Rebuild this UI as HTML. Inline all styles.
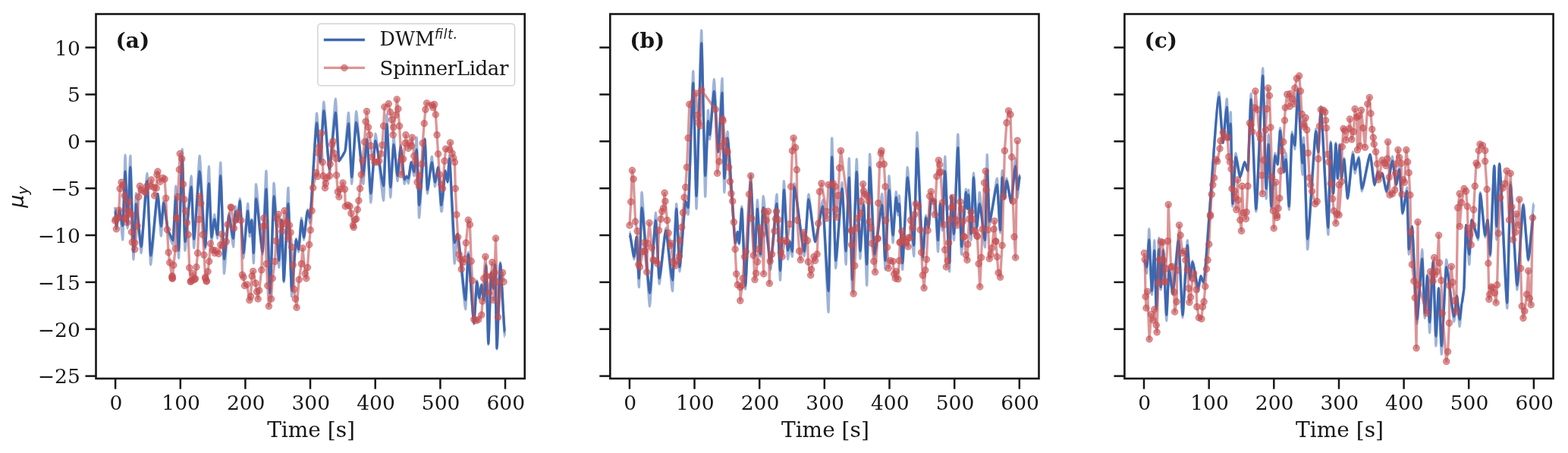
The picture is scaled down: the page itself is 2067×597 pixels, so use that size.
<!DOCTYPE html><html><head><meta charset="utf-8"><style>html,body{margin:0;padding:0;background:#fff;overflow:hidden}svg{display:block}text{font-family:"DejaVu Serif","Liberation Serif",serif;fill:#161616}</style></head><body>
<svg width="2067" height="597" viewBox="0 0 2067 597">
<rect width="2067" height="597" fill="#fff"/>
<clipPath id="c0"><rect x="126.5" y="18.5" width="565.2" height="480.4"/></clipPath>
<clipPath id="c1"><rect x="804.3" y="18.5" width="565.2" height="480.4"/></clipPath>
<clipPath id="c2"><rect x="1482.4" y="18.5" width="565.2" height="480.4"/></clipPath>
<line x1="152.1" y1="498.9" x2="152.1" y2="512.7" stroke="#161616" stroke-width="2.5"/>
<text x="152.9" y="540" font-size="26.5" text-anchor="middle">0</text>
<line x1="237.8" y1="498.9" x2="237.8" y2="512.7" stroke="#161616" stroke-width="2.5"/>
<text x="238.6" y="540" font-size="26.5" text-anchor="middle">100</text>
<line x1="323.4" y1="498.9" x2="323.4" y2="512.7" stroke="#161616" stroke-width="2.5"/>
<text x="324.2" y="540" font-size="26.5" text-anchor="middle">200</text>
<line x1="409.0" y1="498.9" x2="409.0" y2="512.7" stroke="#161616" stroke-width="2.5"/>
<text x="409.8" y="540" font-size="26.5" text-anchor="middle">300</text>
<line x1="494.7" y1="498.9" x2="494.7" y2="512.7" stroke="#161616" stroke-width="2.5"/>
<text x="495.5" y="540" font-size="26.5" text-anchor="middle">400</text>
<line x1="580.4" y1="498.9" x2="580.4" y2="512.7" stroke="#161616" stroke-width="2.5"/>
<text x="581.1" y="540" font-size="26.5" text-anchor="middle">500</text>
<line x1="666.0" y1="498.9" x2="666.0" y2="512.7" stroke="#161616" stroke-width="2.5"/>
<text x="666.8" y="540" font-size="26.5" text-anchor="middle">600</text>
<line x1="112.5" y1="495.6" x2="126.5" y2="495.6" stroke="#161616" stroke-width="2.5"/>
<text x="105.8" y="505.4" font-size="26.5" text-anchor="end">−25</text>
<line x1="112.5" y1="433.7" x2="126.5" y2="433.7" stroke="#161616" stroke-width="2.5"/>
<text x="105.8" y="443.6" font-size="26.5" text-anchor="end">−20</text>
<line x1="112.5" y1="371.9" x2="126.5" y2="371.9" stroke="#161616" stroke-width="2.5"/>
<text x="105.8" y="381.8" font-size="26.5" text-anchor="end">−15</text>
<line x1="112.5" y1="310.0" x2="126.5" y2="310.0" stroke="#161616" stroke-width="2.5"/>
<text x="105.8" y="319.9" font-size="26.5" text-anchor="end">−10</text>
<line x1="112.5" y1="248.2" x2="126.5" y2="248.2" stroke="#161616" stroke-width="2.5"/>
<text x="105.8" y="258.1" font-size="26.5" text-anchor="end">−5</text>
<line x1="112.5" y1="186.3" x2="126.5" y2="186.3" stroke="#161616" stroke-width="2.5"/>
<text x="105.8" y="196.2" font-size="26.5" text-anchor="end">0</text>
<line x1="112.5" y1="124.5" x2="126.5" y2="124.5" stroke="#161616" stroke-width="2.5"/>
<text x="105.8" y="134.4" font-size="26.5" text-anchor="end">5</text>
<line x1="112.5" y1="62.6" x2="126.5" y2="62.6" stroke="#161616" stroke-width="2.5"/>
<text x="105.8" y="72.5" font-size="26.5" text-anchor="end">10</text>
<text x="410.1" y="576.2" font-size="28.0" text-anchor="middle">Time [s]</text>
<line x1="829.9" y1="498.9" x2="829.9" y2="512.7" stroke="#161616" stroke-width="2.5"/>
<text x="830.7" y="540" font-size="26.5" text-anchor="middle">0</text>
<line x1="915.5" y1="498.9" x2="915.5" y2="512.7" stroke="#161616" stroke-width="2.5"/>
<text x="916.3" y="540" font-size="26.5" text-anchor="middle">100</text>
<line x1="1001.2" y1="498.9" x2="1001.2" y2="512.7" stroke="#161616" stroke-width="2.5"/>
<text x="1002.0" y="540" font-size="26.5" text-anchor="middle">200</text>
<line x1="1086.8" y1="498.9" x2="1086.8" y2="512.7" stroke="#161616" stroke-width="2.5"/>
<text x="1087.6" y="540" font-size="26.5" text-anchor="middle">300</text>
<line x1="1172.5" y1="498.9" x2="1172.5" y2="512.7" stroke="#161616" stroke-width="2.5"/>
<text x="1173.3" y="540" font-size="26.5" text-anchor="middle">400</text>
<line x1="1258.2" y1="498.9" x2="1258.2" y2="512.7" stroke="#161616" stroke-width="2.5"/>
<text x="1259.0" y="540" font-size="26.5" text-anchor="middle">500</text>
<line x1="1343.8" y1="498.9" x2="1343.8" y2="512.7" stroke="#161616" stroke-width="2.5"/>
<text x="1344.6" y="540" font-size="26.5" text-anchor="middle">600</text>
<line x1="790.3" y1="495.6" x2="804.3" y2="495.6" stroke="#161616" stroke-width="2.5"/>
<line x1="790.3" y1="433.7" x2="804.3" y2="433.7" stroke="#161616" stroke-width="2.5"/>
<line x1="790.3" y1="371.9" x2="804.3" y2="371.9" stroke="#161616" stroke-width="2.5"/>
<line x1="790.3" y1="310.0" x2="804.3" y2="310.0" stroke="#161616" stroke-width="2.5"/>
<line x1="790.3" y1="248.2" x2="804.3" y2="248.2" stroke="#161616" stroke-width="2.5"/>
<line x1="790.3" y1="186.3" x2="804.3" y2="186.3" stroke="#161616" stroke-width="2.5"/>
<line x1="790.3" y1="124.5" x2="804.3" y2="124.5" stroke="#161616" stroke-width="2.5"/>
<line x1="790.3" y1="62.6" x2="804.3" y2="62.6" stroke="#161616" stroke-width="2.5"/>
<text x="1087.9" y="576.2" font-size="28.0" text-anchor="middle">Time [s]</text>
<line x1="1508.0" y1="498.9" x2="1508.0" y2="512.7" stroke="#161616" stroke-width="2.5"/>
<text x="1508.8" y="540" font-size="26.5" text-anchor="middle">0</text>
<line x1="1593.7" y1="498.9" x2="1593.7" y2="512.7" stroke="#161616" stroke-width="2.5"/>
<text x="1594.5" y="540" font-size="26.5" text-anchor="middle">100</text>
<line x1="1679.3" y1="498.9" x2="1679.3" y2="512.7" stroke="#161616" stroke-width="2.5"/>
<text x="1680.1" y="540" font-size="26.5" text-anchor="middle">200</text>
<line x1="1765.0" y1="498.9" x2="1765.0" y2="512.7" stroke="#161616" stroke-width="2.5"/>
<text x="1765.8" y="540" font-size="26.5" text-anchor="middle">300</text>
<line x1="1850.6" y1="498.9" x2="1850.6" y2="512.7" stroke="#161616" stroke-width="2.5"/>
<text x="1851.4" y="540" font-size="26.5" text-anchor="middle">400</text>
<line x1="1936.2" y1="498.9" x2="1936.2" y2="512.7" stroke="#161616" stroke-width="2.5"/>
<text x="1937.0" y="540" font-size="26.5" text-anchor="middle">500</text>
<line x1="2021.9" y1="498.9" x2="2021.9" y2="512.7" stroke="#161616" stroke-width="2.5"/>
<text x="2022.7" y="540" font-size="26.5" text-anchor="middle">600</text>
<line x1="1468.4" y1="495.6" x2="1482.4" y2="495.6" stroke="#161616" stroke-width="2.5"/>
<line x1="1468.4" y1="433.7" x2="1482.4" y2="433.7" stroke="#161616" stroke-width="2.5"/>
<line x1="1468.4" y1="371.9" x2="1482.4" y2="371.9" stroke="#161616" stroke-width="2.5"/>
<line x1="1468.4" y1="310.0" x2="1482.4" y2="310.0" stroke="#161616" stroke-width="2.5"/>
<line x1="1468.4" y1="248.2" x2="1482.4" y2="248.2" stroke="#161616" stroke-width="2.5"/>
<line x1="1468.4" y1="186.3" x2="1482.4" y2="186.3" stroke="#161616" stroke-width="2.5"/>
<line x1="1468.4" y1="124.5" x2="1482.4" y2="124.5" stroke="#161616" stroke-width="2.5"/>
<line x1="1468.4" y1="62.6" x2="1482.4" y2="62.6" stroke="#161616" stroke-width="2.5"/>
<text x="1766.0" y="576.2" font-size="28.0" text-anchor="middle">Time [s]</text>
<g clip-path="url(#c0)"><path d="M151.7,272.9C151.7,272.9 152.1,278.0 152.1,278.0C152.2,278.0 153.3,301.8 153.4,301.8C153.8,301.8 157.2,275.4 157.6,275.4C158.0,275.4 161.4,316.0 161.8,316.0C162.1,316.0 164.8,204.2 165.1,204.2C165.4,204.2 167.8,300.9 168.1,300.9C168.5,300.9 171.4,205.1 171.8,205.1C172.2,205.1 175.6,342.0 176.0,342.0C176.3,342.0 179.1,254.5 179.4,254.5C180.1,254.5 185.4,333.6 186.1,333.6C186.9,333.6 193.1,228.5 193.9,228.5C194.4,228.5 198.1,348.7 198.6,348.7C199.5,348.7 207.0,255.3 207.9,255.3C208.3,255.3 212.0,311.0 212.4,311.0C212.7,311.0 215.4,264.6 215.7,264.6C216.3,264.6 221.5,308.5 222.1,308.5C222.7,308.5 227.4,322.7 228.0,322.7C228.4,322.7 231.4,245.3 231.8,245.3C232.2,245.3 235.1,340.3 235.5,340.3C236.0,340.3 239.7,196.7 240.2,196.7C240.6,196.7 243.5,330.2 243.9,330.2C244.7,330.2 251.4,231.9 252.2,231.9C252.5,231.9 255.3,326.9 255.6,326.9C256.4,326.9 262.4,205.1 263.1,205.1C263.9,205.1 269.9,327.8 270.6,327.8C271.1,327.8 274.9,219.2 275.4,219.2C275.8,219.2 278.5,319.2 278.9,319.2C279.3,319.2 282.3,282.5 282.7,282.5C283.1,282.5 286.2,314.4 286.6,314.4C287.0,314.4 290.3,214.1 290.7,214.1C291.2,214.1 295.0,360.6 295.5,360.6C296.1,360.6 301.2,281.0 301.8,281.0C302.4,281.0 307.0,325.5 307.6,325.5C307.9,325.5 310.1,272.0 310.4,272.0C310.7,272.0 313.0,291.8 313.3,291.8C313.6,291.8 315.9,261.8 316.2,261.8C316.7,261.8 320.5,340.2 321.0,340.2C321.6,340.2 326.1,268.2 326.7,268.2C326.9,268.2 328.9,311.8 329.2,311.8C329.5,311.8 331.5,288.9 331.8,288.9C332.1,288.9 334.1,346.9 334.3,346.9C334.6,346.9 337.2,242.7 337.5,242.7C338.4,242.7 345.2,335.4 346.1,335.4C346.6,335.4 350.4,225.2 350.9,225.2C351.4,225.2 355.5,392.4 356.0,392.4C356.5,392.4 360.6,241.1 361.1,241.1C361.8,241.1 367.1,352.6 367.8,352.6C368.2,352.6 370.9,288.9 371.3,288.9C371.6,288.9 373.8,371.7 374.1,371.7C374.7,371.7 379.3,247.5 379.9,247.5C380.4,247.5 384.1,390.8 384.6,390.8C385.2,390.8 389.8,314.4 390.4,314.4C390.7,314.4 393.3,331.9 393.6,331.9C394.0,331.9 397.0,287.3 397.4,287.3C397.7,287.3 400.3,316.0 400.6,316.0C401.1,316.0 404.9,276.2 405.4,276.2C405.7,276.2 408.2,293.7 408.5,293.7C409.4,293.7 416.7,149.3 417.6,149.3C418.1,149.3 421.7,213.8 422.1,213.8C422.6,213.8 426.3,134.2 426.8,134.2C427.6,134.2 433.6,227.2 434.4,227.2C435.2,227.2 441.6,130.1 442.4,130.1C442.8,130.1 446.4,212.2 446.9,212.2C447.3,212.2 450.4,207.4 450.8,207.4C451.2,207.4 454.4,199.8 454.8,199.8C455.3,199.8 459.0,148.5 459.5,148.5C459.9,148.5 463.3,242.6 463.7,242.6C464.3,242.6 469.0,146.8 469.6,146.8C470.5,146.8 477.9,242.6 478.8,242.6C479.3,242.6 483.3,182.0 483.8,182.0C484.3,182.0 488.3,266.9 488.8,266.9C489.4,266.9 494.4,176.1 495.0,176.1C496.1,176.1 504.5,264.4 505.6,264.4C506.0,264.4 509.4,151.0 509.8,151.0C510.3,151.0 514.3,260.2 514.8,260.2C515.2,260.2 518.6,180.3 519.0,180.3C519.5,180.3 523.5,238.5 524.0,238.5C524.4,238.5 527.8,191.2 528.2,191.2C528.7,191.2 532.7,242.6 533.2,242.6C533.5,242.6 535.5,231.8 535.8,231.8C536.0,231.8 538.0,241.8 538.3,241.8C538.7,241.8 541.7,213.8 542.1,213.8C542.5,213.8 545.4,231.8 545.8,231.8C546.1,231.8 548.9,181.2 549.2,181.2C549.5,181.2 552.2,287.1 552.5,287.1C553.2,287.1 559.2,182.8 560.0,182.8C560.3,182.8 563.1,255.2 563.4,255.2C564.0,255.2 568.7,206.3 569.3,206.3C569.7,206.3 573.1,246.0 573.5,246.0C573.9,246.0 577.2,220.5 577.6,220.5C578.0,220.5 581.3,278.5 581.7,278.5C581.8,278.5 582.2,278.7 582.3,278.7C582.8,278.7 586.5,224.9 587.0,224.9C587.3,224.9 589.7,240.0 590.0,240.0C590.2,240.0 592.2,205.0 592.4,205.0C593.1,205.0 598.5,347.3 599.2,347.3C599.6,347.3 602.7,308.1 603.1,308.1C604.2,308.1 612.6,407.6 613.7,407.6C614.1,407.6 616.9,332.2 617.3,332.2C618.0,332.2 624.0,427.2 624.8,427.2C625.2,427.2 628.3,369.9 628.7,369.9C629.0,369.9 631.5,394.0 631.8,394.0C632.1,394.0 634.5,374.4 634.8,374.4C635.1,374.4 637.5,395.5 637.8,395.5C638.1,395.5 640.5,348.8 640.8,348.8C641.1,348.8 643.5,454.3 643.8,454.3C644.2,454.3 647.0,359.3 647.4,359.3C647.7,359.3 650.1,380.4 650.4,380.4C650.6,380.4 652.4,348.8 652.6,348.8C652.8,348.8 654.8,460.3 655.0,460.3C655.5,460.3 659.0,345.8 659.5,345.8C660.1,345.8 664.9,443.8 665.5,443.8" fill="none" stroke="#3d67af" stroke-opacity="0.5" stroke-width="3.4" stroke-linejoin="round"/><path d="M151.7,277.1C151.8,277.1 152.0,278.0 152.1,278.0C152.3,278.0 153.2,297.6 153.4,297.6C154.2,297.6 156.8,277.1 157.6,277.1C158.4,277.1 161.0,297.6 161.8,297.6C162.4,297.6 164.5,226.0 165.1,226.0C165.6,226.0 167.6,295.1 168.1,295.1C168.8,295.1 171.1,220.2 171.8,220.2C172.6,220.2 175.2,331.9 176.0,331.9C176.6,331.9 178.8,268.7 179.4,268.7C180.6,268.7 184.9,325.2 186.1,325.2C187.5,325.2 192.5,238.6 193.9,238.6C194.7,238.6 197.8,336.9 198.6,336.9C200.3,336.9 206.2,255.3 207.9,255.3C208.7,255.3 211.6,298.4 212.4,298.4C213.0,298.4 215.1,267.1 215.7,267.1C216.9,267.1 220.9,305.1 222.1,305.1C223.2,305.1 226.9,316.8 228.0,316.8C228.7,316.8 231.1,260.4 231.8,260.4C232.5,260.4 234.8,330.2 235.5,330.2C236.3,330.2 239.4,208.4 240.2,208.4C240.9,208.4 243.2,318.5 243.9,318.5C245.4,318.5 250.7,246.1 252.2,246.1C252.8,246.1 255.0,315.2 255.6,315.2C256.9,315.2 261.8,226.0 263.1,226.0C264.5,226.0 269.2,325.2 270.6,325.2C271.5,325.2 274.5,241.8 275.4,241.8C276.0,241.8 278.3,312.8 278.9,312.8C279.6,312.8 282.0,288.9 282.7,288.9C283.4,288.9 285.9,309.6 286.6,309.6C287.3,309.6 290.0,231.6 290.7,231.6C291.6,231.6 294.6,341.5 295.5,341.5C296.6,341.5 300.7,284.1 301.8,284.1C302.8,284.1 306.6,314.4 307.6,314.4C308.1,314.4 309.9,278.7 310.4,278.7C310.9,278.7 312.8,291.8 313.3,291.8C313.8,291.8 315.7,265.0 316.2,265.0C317.1,265.0 320.1,333.5 321.0,333.5C322.0,333.5 325.7,277.8 326.7,277.8C327.1,277.8 328.8,306.4 329.2,306.4C329.7,306.4 331.3,290.5 331.8,290.5C332.2,290.5 333.9,333.5 334.3,333.5C334.9,333.5 336.9,261.8 337.5,261.8C339.0,261.8 344.6,331.9 346.1,331.9C347.0,331.9 350.0,249.1 350.9,249.1C351.8,249.1 355.1,386.1 356.0,386.1C356.9,386.1 360.2,258.7 361.1,258.7C362.3,258.7 366.6,343.1 367.8,343.1C368.4,343.1 370.7,290.5 371.3,290.5C371.8,290.5 373.6,370.1 374.1,370.1C375.1,370.1 378.9,268.2 379.9,268.2C380.7,268.2 383.8,382.9 384.6,382.9C385.6,382.9 389.4,316.0 390.4,316.0C391.0,316.0 393.0,328.7 393.6,328.7C394.3,328.7 396.7,290.5 397.4,290.5C398.0,290.5 400.0,312.8 400.6,312.8C401.5,312.8 404.5,277.8 405.4,277.8C406.0,277.8 407.9,287.3 408.5,287.3C410.1,287.3 416.0,161.9 417.6,161.9C418.4,161.9 421.3,213.8 422.1,213.8C422.9,213.8 426.0,146.0 426.8,146.0C428.2,146.0 433.0,222.2 434.4,222.2C435.8,222.2 441.0,148.5 442.4,148.5C443.2,148.5 446.1,212.2 446.9,212.2C447.6,212.2 450.1,206.4 450.8,206.4C451.5,206.4 454.1,199.8 454.8,199.8C455.6,199.8 458.7,162.7 459.5,162.7C460.3,162.7 462.9,233.4 463.7,233.4C464.8,233.4 468.5,161.1 469.6,161.1C471.3,161.1 477.1,230.1 478.8,230.1C479.7,230.1 482.9,183.7 483.8,183.7C484.7,183.7 487.9,255.2 488.8,255.2C489.9,255.2 493.9,185.3 495.0,185.3C496.9,185.3 503.7,245.2 505.6,245.2C506.4,245.2 509.0,163.6 509.8,163.6C510.7,163.6 513.9,246.8 514.8,246.8C515.6,246.8 518.2,190.4 519.0,190.4C519.9,190.4 523.1,231.8 524.0,231.8C524.8,231.8 527.4,193.7 528.2,193.7C529.1,193.7 532.3,236.8 533.2,236.8C533.7,236.8 535.3,232.6 535.8,232.6C536.2,232.6 537.8,235.1 538.3,235.1C539.0,235.1 541.4,213.8 542.1,213.8C542.8,213.8 545.1,226.7 545.8,226.7C546.4,226.7 548.6,197.1 549.2,197.1C549.8,197.1 551.9,270.3 552.5,270.3C553.9,270.3 558.6,183.7 560.0,183.7C560.6,183.7 562.8,250.2 563.4,250.2C564.5,250.2 568.2,213.8 569.3,213.8C570.1,213.8 572.7,240.1 573.5,240.1C574.2,240.1 576.9,220.5 577.6,220.5C578.3,220.5 581.0,270.4 581.7,270.4C581.8,270.4 582.2,266.9 582.3,266.9C583.1,266.9 586.2,224.9 587.0,224.9C587.5,224.9 589.5,240.0 590.0,240.0C590.4,240.0 592.0,208.8 592.4,208.8C593.6,208.8 598.0,320.1 599.2,320.1C599.9,320.1 602.4,308.1 603.1,308.1C605.0,308.1 611.8,395.5 613.7,395.5C614.3,395.5 616.7,335.2 617.3,335.2C618.6,335.2 623.4,425.7 624.8,425.7C625.5,425.7 628.0,371.4 628.7,371.4C629.3,371.4 631.2,392.5 631.8,392.5C632.3,392.5 634.3,375.9 634.8,375.9C635.3,375.9 637.3,395.5 637.8,395.5C638.3,395.5 640.3,350.3 640.8,350.3C641.3,350.3 643.3,452.8 643.8,452.8C644.4,452.8 646.8,359.3 647.4,359.3C647.9,359.3 649.9,380.4 650.4,380.4C650.8,380.4 652.2,348.8 652.6,348.8C653.0,348.8 654.6,458.8 655.0,458.8C655.8,458.8 658.7,347.3 659.5,347.3C660.6,347.3 664.4,437.7 665.5,437.7" fill="none" stroke="#3d67af" stroke-width="3.3" stroke-linejoin="round"/><path d="M151.7,290.9L152.6,288.8L153.4,301.8L155.1,287.5L155.9,286.3L156.8,277.1L158.1,248.6L160.1,240.3L161.8,244.4L164.3,257.9L165.1,287.2L165.1,288.4L167.6,293.4L169.3,278.0L170.2,265.4L171.0,280.5L173.5,283.0L173.5,305.9L174.3,319.3L177.7,320.2L177.7,328.6L181.0,297.6L182.7,259.5L184.4,245.3L186.1,250.3L189.4,252.0L191.9,253.7L193.6,245.3L197.8,245.3L199.5,236.9L202.8,247.0L203.7,257.9L206.2,247.8L207.0,230.2L207.9,226.0L211.2,239.4L214.6,234.4L217.1,236.1L218.7,261.2L220.4,302.6L222.1,332.7L223.8,346.1L226.8,365.0L227.1,363.7L227.1,367.1L227.4,366.9L228.8,349.5L231.3,327.7L233.0,287.2L233.0,287.5L234.2,259.5L236.3,223.5L237.2,202.6L239.7,209.3L241.4,242.8L243.0,262.9L244.7,278.0L246.4,293.4L248.1,309.3L249.7,352.9L251.3,371.3L251.4,370.4L253.8,369.4L253.9,360.4L257.0,368.2L257.3,367.1L258.9,352.0L260.6,333.6L262.3,289.2L263.1,258.7L264.8,267.9L267.3,309.3L269.0,336.1L270.7,365.4L270.8,366.9L272.1,370.7L272.4,370.4L274.0,357.9L275.7,344.5L277.4,321.0L280.7,329.4L283.2,333.6L284.1,330.2L288.3,334.4L290.8,322.7L292.5,308.5L294.1,324.4L298.3,318.5L300.0,295.9L304.2,272.9L305.0,273.8L308.4,300.9L310.9,290.0L314.2,280.5L317.8,290.5L319.4,362.2L321.0,365.4L322.5,376.5L325.7,374.9L328.9,395.6L330.5,390.8L332.1,363.8L333.7,357.4L336.9,373.3L338.5,384.5L340.1,394.0L341.7,382.9L344.8,355.8L346.4,298.5L348.0,287.3L349.6,296.9L351.2,347.8L352.8,376.5L354.4,403.6L357.6,394.0L359.2,366.9L362.4,344.6L363.9,317.6L365.5,288.9L367.1,282.5L370.3,296.9L371.9,304.8L373.5,295.3L375.1,277.8L378.3,292.1L379.9,314.4L381.5,296.9L383.1,306.4L384.6,325.5L386.2,349.4L387.8,381.3L389.4,394.0L391.0,405.2L394.2,368.5L397.4,347.8L399.0,327.1L402.2,360.6L403.8,366.9L405.4,352.6L407.6,322.4L409.2,303.2L411.1,277.8L412.7,247.5L416.8,227.6L418.5,232.6L419.3,201.3L421.0,193.7L423.5,175.3L425.2,213.8L426.0,231.8L428.5,247.7L429.3,241.8L431.0,234.3L434.4,231.8L435.2,216.3L437.7,190.4L438.9,186.2L440.2,202.1L442.8,208.8L443.6,230.9L445.3,252.7L446.9,259.4L448.6,249.3L452.0,241.0L454.5,249.3L455.3,272.0L458.7,270.3L461.2,272.0L462.9,281.2L465.4,297.1L466.2,299.6L467.9,289.6L469.6,288.7L471.2,276.2L472.9,264.4L474.6,248.5L476.3,230.1L477.9,211.3L480.5,187.0L482.1,160.2L483.5,146.8L485.5,167.8L487.2,177.8L488.8,192.1L490.5,207.1L493.9,213.8L497.2,213.8L499.7,212.2L502.2,202.9L503.9,191.2L505.6,166.1L506.9,140.9L512.3,136.8L514.3,147.6L516.5,157.7L518.2,177.8L518.7,167.8L521.5,151.8L523.2,130.9L524.9,143.5L526.5,166.1L529.0,210.5L529.0,230.1L531.6,209.6L534.1,188.7L534.9,177.8L538.3,195.4L539.9,188.7L542.5,192.1L543.3,181.2L545.8,205.5L547.5,212.2L550.0,240.1L552.5,246.0L553.3,231.8L555.9,216.3L557.2,188.7L559.2,162.7L560.9,144.3L562.6,135.9L569.3,138.4L570.9,141.8L572.6,137.6L574.3,151.0L576.0,177.8L577.6,202.9L579.3,230.1L581.8,243.5L583.5,248.5L586.0,212.2L587.7,196.2L592.7,197.1L593.6,187.9L596.1,202.1L597.7,208.0L599.4,213.8L600.3,248.5L601.9,282.9L603.7,312.6L605.2,335.2L606.7,341.3L608.2,354.8L610.6,345.8L612.8,341.3L614.3,320.1L617.3,290.0L619.4,296.0L621.2,344.3L622.7,369.9L624.8,421.1L627.8,422.6L630.8,421.1L634.8,415.1L636.0,397.0L637.8,366.9L639.9,338.2L641.4,363.9L644.4,386.5L647.4,363.9L648.9,345.8L650.4,395.5L652.0,359.3L653.5,314.1L655.0,371.4L656.5,418.1L662.5,359.3L664.0,371.4" fill="none" stroke="#c44e52" stroke-opacity="0.6" stroke-width="3.3" stroke-linejoin="round"/><g fill="#c44e52" fill-opacity="0.6" stroke="#c44e52" stroke-opacity="0.6" stroke-width="1.1"><circle cx="151.7" cy="290.9" r="4.2"/><circle cx="152.6" cy="288.8" r="4.2"/><circle cx="153.4" cy="301.8" r="4.2"/><circle cx="155.1" cy="287.5" r="4.2"/><circle cx="155.9" cy="286.3" r="4.2"/><circle cx="156.8" cy="277.1" r="4.2"/><circle cx="158.1" cy="248.6" r="4.2"/><circle cx="160.1" cy="240.3" r="4.2"/><circle cx="161.8" cy="244.4" r="4.2"/><circle cx="164.3" cy="257.9" r="4.2"/><circle cx="165.1" cy="287.2" r="4.2"/><circle cx="165.1" cy="288.4" r="4.2"/><circle cx="167.6" cy="293.4" r="4.2"/><circle cx="169.3" cy="278.0" r="4.2"/><circle cx="170.2" cy="265.4" r="4.2"/><circle cx="171.0" cy="280.5" r="4.2"/><circle cx="173.5" cy="283.0" r="4.2"/><circle cx="173.5" cy="305.9" r="4.2"/><circle cx="174.3" cy="319.3" r="4.2"/><circle cx="177.7" cy="320.2" r="4.2"/><circle cx="177.7" cy="328.6" r="4.2"/><circle cx="181.0" cy="297.6" r="4.2"/><circle cx="182.7" cy="259.5" r="4.2"/><circle cx="184.4" cy="245.3" r="4.2"/><circle cx="186.1" cy="250.3" r="4.2"/><circle cx="189.4" cy="252.0" r="4.2"/><circle cx="191.9" cy="253.7" r="4.2"/><circle cx="193.6" cy="245.3" r="4.2"/><circle cx="197.8" cy="245.3" r="4.2"/><circle cx="199.5" cy="236.9" r="4.2"/><circle cx="202.8" cy="247.0" r="4.2"/><circle cx="203.7" cy="257.9" r="4.2"/><circle cx="206.2" cy="247.8" r="4.2"/><circle cx="207.0" cy="230.2" r="4.2"/><circle cx="207.9" cy="226.0" r="4.2"/><circle cx="211.2" cy="239.4" r="4.2"/><circle cx="214.6" cy="234.4" r="4.2"/><circle cx="217.1" cy="236.1" r="4.2"/><circle cx="218.7" cy="261.2" r="4.2"/><circle cx="220.4" cy="302.6" r="4.2"/><circle cx="222.1" cy="332.7" r="4.2"/><circle cx="223.8" cy="346.1" r="4.2"/><circle cx="226.8" cy="365.0" r="4.2"/><circle cx="227.1" cy="363.7" r="4.2"/><circle cx="227.1" cy="367.1" r="4.2"/><circle cx="227.4" cy="366.9" r="4.2"/><circle cx="228.8" cy="349.5" r="4.2"/><circle cx="231.3" cy="327.7" r="4.2"/><circle cx="233.0" cy="287.2" r="4.2"/><circle cx="233.0" cy="287.5" r="4.2"/><circle cx="234.2" cy="259.5" r="4.2"/><circle cx="236.3" cy="223.5" r="4.2"/><circle cx="237.2" cy="202.6" r="4.2"/><circle cx="239.7" cy="209.3" r="4.2"/><circle cx="241.4" cy="242.8" r="4.2"/><circle cx="243.0" cy="262.9" r="4.2"/><circle cx="244.7" cy="278.0" r="4.2"/><circle cx="246.4" cy="293.4" r="4.2"/><circle cx="248.1" cy="309.3" r="4.2"/><circle cx="249.7" cy="352.9" r="4.2"/><circle cx="251.3" cy="371.3" r="4.2"/><circle cx="251.4" cy="370.4" r="4.2"/><circle cx="253.8" cy="369.4" r="4.2"/><circle cx="253.9" cy="360.4" r="4.2"/><circle cx="257.0" cy="368.2" r="4.2"/><circle cx="257.3" cy="367.1" r="4.2"/><circle cx="258.9" cy="352.0" r="4.2"/><circle cx="260.6" cy="333.6" r="4.2"/><circle cx="262.3" cy="289.2" r="4.2"/><circle cx="263.1" cy="258.7" r="4.2"/><circle cx="264.8" cy="267.9" r="4.2"/><circle cx="267.3" cy="309.3" r="4.2"/><circle cx="269.0" cy="336.1" r="4.2"/><circle cx="270.7" cy="365.4" r="4.2"/><circle cx="270.8" cy="366.9" r="4.2"/><circle cx="272.1" cy="370.7" r="4.2"/><circle cx="272.4" cy="370.4" r="4.2"/><circle cx="274.0" cy="357.9" r="4.2"/><circle cx="275.7" cy="344.5" r="4.2"/><circle cx="277.4" cy="321.0" r="4.2"/><circle cx="280.7" cy="329.4" r="4.2"/><circle cx="283.2" cy="333.6" r="4.2"/><circle cx="284.1" cy="330.2" r="4.2"/><circle cx="288.3" cy="334.4" r="4.2"/><circle cx="290.8" cy="322.7" r="4.2"/><circle cx="292.5" cy="308.5" r="4.2"/><circle cx="294.1" cy="324.4" r="4.2"/><circle cx="298.3" cy="318.5" r="4.2"/><circle cx="300.0" cy="295.9" r="4.2"/><circle cx="304.2" cy="272.9" r="4.2"/><circle cx="305.0" cy="273.8" r="4.2"/><circle cx="308.4" cy="300.9" r="4.2"/><circle cx="310.9" cy="290.0" r="4.2"/><circle cx="314.2" cy="280.5" r="4.2"/><circle cx="317.8" cy="290.5" r="4.2"/><circle cx="319.4" cy="362.2" r="4.2"/><circle cx="321.0" cy="365.4" r="4.2"/><circle cx="322.5" cy="376.5" r="4.2"/><circle cx="325.7" cy="374.9" r="4.2"/><circle cx="328.9" cy="395.6" r="4.2"/><circle cx="330.5" cy="390.8" r="4.2"/><circle cx="332.1" cy="363.8" r="4.2"/><circle cx="333.7" cy="357.4" r="4.2"/><circle cx="336.9" cy="373.3" r="4.2"/><circle cx="338.5" cy="384.5" r="4.2"/><circle cx="340.1" cy="394.0" r="4.2"/><circle cx="341.7" cy="382.9" r="4.2"/><circle cx="344.8" cy="355.8" r="4.2"/><circle cx="346.4" cy="298.5" r="4.2"/><circle cx="348.0" cy="287.3" r="4.2"/><circle cx="349.6" cy="296.9" r="4.2"/><circle cx="351.2" cy="347.8" r="4.2"/><circle cx="352.8" cy="376.5" r="4.2"/><circle cx="354.4" cy="403.6" r="4.2"/><circle cx="357.6" cy="394.0" r="4.2"/><circle cx="359.2" cy="366.9" r="4.2"/><circle cx="362.4" cy="344.6" r="4.2"/><circle cx="363.9" cy="317.6" r="4.2"/><circle cx="365.5" cy="288.9" r="4.2"/><circle cx="367.1" cy="282.5" r="4.2"/><circle cx="370.3" cy="296.9" r="4.2"/><circle cx="371.9" cy="304.8" r="4.2"/><circle cx="373.5" cy="295.3" r="4.2"/><circle cx="375.1" cy="277.8" r="4.2"/><circle cx="378.3" cy="292.1" r="4.2"/><circle cx="379.9" cy="314.4" r="4.2"/><circle cx="381.5" cy="296.9" r="4.2"/><circle cx="383.1" cy="306.4" r="4.2"/><circle cx="384.6" cy="325.5" r="4.2"/><circle cx="386.2" cy="349.4" r="4.2"/><circle cx="387.8" cy="381.3" r="4.2"/><circle cx="389.4" cy="394.0" r="4.2"/><circle cx="391.0" cy="405.2" r="4.2"/><circle cx="394.2" cy="368.5" r="4.2"/><circle cx="397.4" cy="347.8" r="4.2"/><circle cx="399.0" cy="327.1" r="4.2"/><circle cx="402.2" cy="360.6" r="4.2"/><circle cx="403.8" cy="366.9" r="4.2"/><circle cx="405.4" cy="352.6" r="4.2"/><circle cx="407.6" cy="322.4" r="4.2"/><circle cx="409.2" cy="303.2" r="4.2"/><circle cx="411.1" cy="277.8" r="4.2"/><circle cx="412.7" cy="247.5" r="4.2"/><circle cx="416.8" cy="227.6" r="4.2"/><circle cx="418.5" cy="232.6" r="4.2"/><circle cx="419.3" cy="201.3" r="4.2"/><circle cx="421.0" cy="193.7" r="4.2"/><circle cx="423.5" cy="175.3" r="4.2"/><circle cx="425.2" cy="213.8" r="4.2"/><circle cx="426.0" cy="231.8" r="4.2"/><circle cx="428.5" cy="247.7" r="4.2"/><circle cx="429.3" cy="241.8" r="4.2"/><circle cx="431.0" cy="234.3" r="4.2"/><circle cx="434.4" cy="231.8" r="4.2"/><circle cx="435.2" cy="216.3" r="4.2"/><circle cx="437.7" cy="190.4" r="4.2"/><circle cx="438.9" cy="186.2" r="4.2"/><circle cx="440.2" cy="202.1" r="4.2"/><circle cx="442.8" cy="208.8" r="4.2"/><circle cx="443.6" cy="230.9" r="4.2"/><circle cx="445.3" cy="252.7" r="4.2"/><circle cx="446.9" cy="259.4" r="4.2"/><circle cx="448.6" cy="249.3" r="4.2"/><circle cx="452.0" cy="241.0" r="4.2"/><circle cx="454.5" cy="249.3" r="4.2"/><circle cx="455.3" cy="272.0" r="4.2"/><circle cx="458.7" cy="270.3" r="4.2"/><circle cx="461.2" cy="272.0" r="4.2"/><circle cx="462.9" cy="281.2" r="4.2"/><circle cx="465.4" cy="297.1" r="4.2"/><circle cx="466.2" cy="299.6" r="4.2"/><circle cx="467.9" cy="289.6" r="4.2"/><circle cx="469.6" cy="288.7" r="4.2"/><circle cx="471.2" cy="276.2" r="4.2"/><circle cx="472.9" cy="264.4" r="4.2"/><circle cx="474.6" cy="248.5" r="4.2"/><circle cx="476.3" cy="230.1" r="4.2"/><circle cx="477.9" cy="211.3" r="4.2"/><circle cx="480.5" cy="187.0" r="4.2"/><circle cx="482.1" cy="160.2" r="4.2"/><circle cx="483.5" cy="146.8" r="4.2"/><circle cx="485.5" cy="167.8" r="4.2"/><circle cx="487.2" cy="177.8" r="4.2"/><circle cx="488.8" cy="192.1" r="4.2"/><circle cx="490.5" cy="207.1" r="4.2"/><circle cx="493.9" cy="213.8" r="4.2"/><circle cx="497.2" cy="213.8" r="4.2"/><circle cx="499.7" cy="212.2" r="4.2"/><circle cx="502.2" cy="202.9" r="4.2"/><circle cx="503.9" cy="191.2" r="4.2"/><circle cx="505.6" cy="166.1" r="4.2"/><circle cx="506.9" cy="140.9" r="4.2"/><circle cx="512.3" cy="136.8" r="4.2"/><circle cx="514.3" cy="147.6" r="4.2"/><circle cx="516.5" cy="157.7" r="4.2"/><circle cx="518.2" cy="177.8" r="4.2"/><circle cx="518.7" cy="167.8" r="4.2"/><circle cx="521.5" cy="151.8" r="4.2"/><circle cx="523.2" cy="130.9" r="4.2"/><circle cx="524.9" cy="143.5" r="4.2"/><circle cx="526.5" cy="166.1" r="4.2"/><circle cx="529.0" cy="210.5" r="4.2"/><circle cx="529.0" cy="230.1" r="4.2"/><circle cx="531.6" cy="209.6" r="4.2"/><circle cx="534.1" cy="188.7" r="4.2"/><circle cx="534.9" cy="177.8" r="4.2"/><circle cx="538.3" cy="195.4" r="4.2"/><circle cx="539.9" cy="188.7" r="4.2"/><circle cx="542.5" cy="192.1" r="4.2"/><circle cx="543.3" cy="181.2" r="4.2"/><circle cx="545.8" cy="205.5" r="4.2"/><circle cx="547.5" cy="212.2" r="4.2"/><circle cx="550.0" cy="240.1" r="4.2"/><circle cx="552.5" cy="246.0" r="4.2"/><circle cx="553.3" cy="231.8" r="4.2"/><circle cx="555.9" cy="216.3" r="4.2"/><circle cx="557.2" cy="188.7" r="4.2"/><circle cx="559.2" cy="162.7" r="4.2"/><circle cx="560.9" cy="144.3" r="4.2"/><circle cx="562.6" cy="135.9" r="4.2"/><circle cx="569.3" cy="138.4" r="4.2"/><circle cx="570.9" cy="141.8" r="4.2"/><circle cx="572.6" cy="137.6" r="4.2"/><circle cx="574.3" cy="151.0" r="4.2"/><circle cx="576.0" cy="177.8" r="4.2"/><circle cx="577.6" cy="202.9" r="4.2"/><circle cx="579.3" cy="230.1" r="4.2"/><circle cx="581.8" cy="243.5" r="4.2"/><circle cx="583.5" cy="248.5" r="4.2"/><circle cx="586.0" cy="212.2" r="4.2"/><circle cx="587.7" cy="196.2" r="4.2"/><circle cx="592.7" cy="197.1" r="4.2"/><circle cx="593.6" cy="187.9" r="4.2"/><circle cx="596.1" cy="202.1" r="4.2"/><circle cx="597.7" cy="208.0" r="4.2"/><circle cx="599.4" cy="213.8" r="4.2"/><circle cx="600.3" cy="248.5" r="4.2"/><circle cx="601.9" cy="282.9" r="4.2"/><circle cx="603.7" cy="312.6" r="4.2"/><circle cx="605.2" cy="335.2" r="4.2"/><circle cx="606.7" cy="341.3" r="4.2"/><circle cx="608.2" cy="354.8" r="4.2"/><circle cx="610.6" cy="345.8" r="4.2"/><circle cx="612.8" cy="341.3" r="4.2"/><circle cx="614.3" cy="320.1" r="4.2"/><circle cx="617.3" cy="290.0" r="4.2"/><circle cx="619.4" cy="296.0" r="4.2"/><circle cx="621.2" cy="344.3" r="4.2"/><circle cx="622.7" cy="369.9" r="4.2"/><circle cx="624.8" cy="421.1" r="4.2"/><circle cx="627.8" cy="422.6" r="4.2"/><circle cx="630.8" cy="421.1" r="4.2"/><circle cx="634.8" cy="415.1" r="4.2"/><circle cx="636.0" cy="397.0" r="4.2"/><circle cx="637.8" cy="366.9" r="4.2"/><circle cx="639.9" cy="338.2" r="4.2"/><circle cx="641.4" cy="363.9" r="4.2"/><circle cx="644.4" cy="386.5" r="4.2"/><circle cx="647.4" cy="363.9" r="4.2"/><circle cx="648.9" cy="345.8" r="4.2"/><circle cx="650.4" cy="395.5" r="4.2"/><circle cx="652.0" cy="359.3" r="4.2"/><circle cx="653.5" cy="314.1" r="4.2"/><circle cx="655.0" cy="371.4" r="4.2"/><circle cx="656.5" cy="418.1" r="4.2"/><circle cx="662.5" cy="359.3" r="4.2"/><circle cx="664.0" cy="371.4" r="4.2"/></g></g><g clip-path="url(#c1)"><path d="M830.0,305.4C830.6,305.4 835.3,341.8 835.9,341.8C836.2,341.8 838.8,312.1 839.1,312.1C839.4,312.1 842.0,378.6 842.3,378.6C842.7,378.6 845.6,253.5 846.0,253.5C847.0,253.5 855.5,403.7 856.5,403.7C857.3,403.7 863.6,280.3 864.4,280.3C864.9,280.3 868.6,374.4 869.1,374.4C870.0,374.4 876.9,300.4 877.8,300.4C878.7,300.4 885.6,383.6 886.5,383.6C887.0,383.6 891.2,268.5 891.7,268.5C892.1,268.5 895.5,357.7 895.9,357.7C896.7,357.7 902.9,265.2 903.7,265.2C904.0,265.2 906.8,282.8 907.1,282.8C907.8,282.8 913.1,93.6 913.8,93.6C914.2,93.6 917.6,275.2 918.0,275.2C918.7,275.2 924.0,40.0 924.7,40.0C925.2,40.0 929.2,259.3 929.7,259.3C930.1,259.3 933.1,145.1 933.5,145.1C933.7,145.1 935.4,183.6 935.6,183.6C936.2,183.6 940.8,104.5 941.4,104.5C941.9,104.5 946.3,200.3 946.8,200.3C947.3,200.3 951.5,103.3 952.0,103.3C952.3,103.3 954.5,253.5 954.8,253.5C955.2,253.5 958.6,173.5 959.0,173.5C960.0,173.5 968.5,322.0 969.5,322.0C969.8,322.0 971.9,305.4 972.2,305.4C972.4,305.4 974.1,322.0 974.3,322.0C974.7,322.0 977.5,271.9 977.9,271.9C978.4,271.9 982.0,381.1 982.5,381.1C983.2,381.1 989.0,230.0 989.7,230.0C990.2,230.0 994.5,340.1 995.0,340.1C995.3,340.1 998.1,263.5 998.4,263.5C998.8,263.5 1002.1,338.4 1002.5,338.4C1002.9,338.4 1005.8,258.5 1006.2,258.5C1007.2,258.5 1014.9,355.2 1015.9,355.2C1016.7,355.2 1023.2,256.0 1024.0,256.0C1024.5,256.0 1028.0,369.4 1028.5,369.4C1029.0,369.4 1033.0,238.4 1033.5,238.4C1034.0,238.4 1038.1,341.8 1038.6,341.8C1038.9,341.8 1041.1,318.3 1041.4,318.3C1041.7,318.3 1044.1,338.4 1044.4,338.4C1044.7,338.4 1046.7,241.7 1046.9,241.7C1048.2,241.7 1059.0,337.6 1060.3,337.6C1060.9,337.6 1065.3,256.0 1065.9,256.0C1066.8,256.0 1073.7,318.8 1074.6,318.8C1075.6,318.8 1083.6,263.5 1084.6,263.5C1085.3,263.5 1091.3,411.3 1092.1,411.3C1092.6,411.3 1096.2,181.9 1096.7,181.9C1097.2,181.9 1101.2,353.6 1101.7,353.6C1102.5,353.6 1109.3,240.1 1110.1,240.1C1110.6,240.1 1114.6,348.6 1115.1,348.6C1115.5,348.6 1118.9,208.7 1119.3,208.7C1119.7,208.7 1123.1,383.7 1123.5,383.7C1124.1,383.7 1128.7,209.6 1129.3,209.6C1129.8,209.6 1133.4,341.0 1133.9,341.0C1134.4,341.0 1138.0,266.9 1138.5,266.9C1138.9,266.9 1142.3,376.2 1142.7,376.2C1143.1,376.2 1146.2,202.9 1146.6,202.9C1147.2,202.9 1152.2,338.5 1152.8,338.5C1153.8,338.5 1161.8,255.1 1162.8,255.1C1163.2,255.1 1166.6,355.3 1167.0,355.3C1167.5,355.3 1171.5,231.7 1172.0,231.7C1172.5,231.7 1176.6,320.1 1177.1,320.1C1177.5,320.1 1180.9,252.6 1181.3,252.6C1181.5,252.6 1183.5,283.6 1183.8,283.6C1184.0,283.6 1185.2,257.7 1185.4,257.7C1185.8,257.7 1189.2,355.3 1189.6,355.3C1190.3,355.3 1195.6,220.4 1196.3,220.4C1197.1,220.4 1203.9,337.7 1204.7,337.7C1205.1,337.7 1208.5,174.4 1208.9,174.4C1209.7,174.4 1215.7,341.9 1216.4,341.9C1216.8,341.9 1220.2,283.6 1220.6,283.6C1220.9,283.6 1223.7,300.4 1224.0,300.4C1224.3,300.4 1227.0,260.2 1227.3,260.2C1227.8,260.2 1232.2,265.2 1232.7,265.2C1233.1,265.2 1236.1,331.8 1236.5,331.8C1236.8,331.8 1239.1,268.5 1239.4,268.5C1239.7,268.5 1242.1,303.7 1242.4,303.7C1242.7,303.7 1245.4,206.2 1245.7,206.2C1246.3,206.2 1251.0,357.8 1251.6,357.8C1251.9,357.8 1254.1,258.5 1254.4,258.5C1254.7,258.5 1257.2,316.7 1257.5,316.7C1258.0,316.7 1262.3,176.9 1262.8,176.9C1263.3,176.9 1267.0,335.2 1267.5,335.2C1268.1,335.2 1272.8,249.3 1273.4,249.3C1273.6,249.3 1274.8,275.2 1275.0,275.2C1275.2,275.2 1276.5,250.1 1276.7,250.1C1277.0,250.1 1279.8,316.7 1280.1,316.7C1280.4,316.7 1283.1,228.0 1283.4,228.0C1283.8,228.0 1287.2,300.4 1287.6,300.4C1288.0,300.4 1290.9,253.5 1291.3,253.5C1292.0,253.5 1297.8,326.0 1298.5,326.0C1298.8,326.0 1301.0,203.7 1301.3,203.7C1301.6,203.7 1304.0,297.0 1304.3,297.0C1305.3,297.0 1313.4,235.0 1314.4,235.0C1314.8,235.0 1318.2,306.7 1318.6,306.7C1318.8,306.7 1320.8,224.6 1321.1,224.6C1321.4,224.6 1323.8,261.8 1324.1,261.8C1324.4,261.8 1326.7,235.0 1327.0,235.0C1327.6,235.0 1332.2,266.9 1332.8,266.9C1333.4,266.9 1338.1,208.7 1338.7,208.7C1339.0,208.7 1341.0,261.0 1341.2,261.0C1341.5,261.0 1344.2,230.0 1344.5,230.0" fill="none" stroke="#3d67af" stroke-opacity="0.5" stroke-width="3.4" stroke-linejoin="round"/><path d="M830.0,308.7C831.1,308.7 834.8,338.4 835.9,338.4C836.5,338.4 838.5,312.1 839.1,312.1C839.7,312.1 841.7,366.9 842.3,366.9C843.0,366.9 845.3,273.6 846.0,273.6C847.9,273.6 854.6,386.2 856.5,386.2C857.9,386.2 863.0,290.3 864.4,290.3C865.2,290.3 868.3,366.9 869.1,366.9C870.7,366.9 876.2,303.7 877.8,303.7C879.4,303.7 884.9,369.4 886.5,369.4C887.4,369.4 890.8,275.2 891.7,275.2C892.5,275.2 895.1,351.8 895.9,351.8C897.3,351.8 902.3,265.2 903.7,265.2C904.3,265.2 906.5,273.6 907.1,273.6C908.3,273.6 912.6,109.5 913.8,109.5C914.6,109.5 917.2,258.5 918.0,258.5C919.2,258.5 923.5,56.8 924.7,56.8C925.6,56.8 928.8,231.7 929.7,231.7C930.4,231.7 932.8,159.3 933.5,159.3C933.9,159.3 935.2,177.7 935.6,177.7C936.6,177.7 940.4,120.4 941.4,120.4C942.4,120.4 945.8,200.3 946.8,200.3C947.7,200.3 951.1,122.1 952.0,122.1C952.5,122.1 954.3,235.0 954.8,235.0C955.6,235.0 958.2,181.9 959.0,181.9C960.9,181.9 967.6,320.4 969.5,320.4C970.0,320.4 971.7,305.4 972.2,305.4C972.6,305.4 973.9,320.4 974.3,320.4C974.9,320.4 977.3,275.2 977.9,275.2C978.7,275.2 981.7,376.9 982.5,376.9C983.8,376.9 988.4,240.0 989.7,240.0C990.7,240.0 994.0,336.7 995.0,336.7C995.6,336.7 997.8,275.2 998.4,275.2C999.1,275.2 1001.8,335.1 1002.5,335.1C1003.2,335.1 1005.5,273.6 1006.2,273.6C1007.9,273.6 1014.2,345.1 1015.9,345.1C1017.4,345.1 1022.5,268.5 1024.0,268.5C1024.8,268.5 1027.7,356.8 1028.5,356.8C1029.4,356.8 1032.6,250.1 1033.5,250.1C1034.4,250.1 1037.7,330.0 1038.6,330.0C1039.1,330.0 1040.9,318.3 1041.4,318.3C1041.9,318.3 1043.9,331.7 1044.4,331.7C1044.9,331.7 1046.5,245.9 1046.9,245.9C1049.3,245.9 1057.9,331.7 1060.3,331.7C1061.3,331.7 1064.9,262.7 1065.9,262.7C1067.5,262.7 1073.0,318.8 1074.6,318.8C1076.4,318.8 1082.8,271.9 1084.6,271.9C1085.9,271.9 1090.8,383.6 1092.1,383.6C1092.9,383.6 1095.9,207.0 1096.7,207.0C1097.6,207.0 1100.8,343.5 1101.7,343.5C1103.2,343.5 1108.6,248.4 1110.1,248.4C1111.0,248.4 1114.2,331.0 1115.1,331.0C1115.9,331.0 1118.5,233.8 1119.3,233.8C1120.1,233.8 1122.7,368.7 1123.5,368.7C1124.5,368.7 1128.3,226.3 1129.3,226.3C1130.1,226.3 1133.1,331.0 1133.9,331.0C1134.7,331.0 1137.7,270.2 1138.5,270.2C1139.3,270.2 1141.9,348.6 1142.7,348.6C1143.4,348.6 1145.9,220.4 1146.6,220.4C1147.7,220.4 1151.7,335.2 1152.8,335.2C1154.6,335.2 1161.0,270.2 1162.8,270.2C1163.6,270.2 1166.2,343.5 1167.0,343.5C1167.9,343.5 1171.1,250.1 1172.0,250.1C1172.9,250.1 1176.2,310.0 1177.1,310.0C1177.9,310.0 1180.5,260.2 1181.3,260.2C1181.8,260.2 1183.3,278.6 1183.8,278.6C1184.1,278.6 1185.1,268.5 1185.4,268.5C1186.2,268.5 1188.8,346.9 1189.6,346.9C1190.8,346.9 1195.1,233.8 1196.3,233.8C1197.8,233.8 1203.2,323.4 1204.7,323.4C1205.5,323.4 1208.1,195.3 1208.9,195.3C1210.2,195.3 1215.1,338.5 1216.4,338.5C1217.2,338.5 1219.8,287.0 1220.6,287.0C1221.2,287.0 1223.4,300.4 1224.0,300.4C1224.6,300.4 1226.7,263.5 1227.3,263.5C1228.3,263.5 1231.7,265.2 1232.7,265.2C1233.4,265.2 1235.8,316.7 1236.5,316.7C1237.0,316.7 1238.9,268.5 1239.4,268.5C1239.9,268.5 1241.9,297.0 1242.4,297.0C1243.0,297.0 1245.1,225.5 1245.7,225.5C1246.8,225.5 1250.5,346.9 1251.6,346.9C1252.1,346.9 1253.9,258.5 1254.4,258.5C1255.0,258.5 1256.9,308.4 1257.5,308.4C1258.5,308.4 1261.8,194.5 1262.8,194.5C1263.6,194.5 1266.7,325.1 1267.5,325.1C1268.6,325.1 1272.3,253.5 1273.4,253.5C1273.7,253.5 1274.7,275.2 1275.0,275.2C1275.3,275.2 1276.4,256.8 1276.7,256.8C1277.3,256.8 1279.5,308.4 1280.1,308.4C1280.7,308.4 1282.8,233.8 1283.4,233.8C1284.2,233.8 1286.8,300.4 1287.6,300.4C1288.3,300.4 1290.6,268.5 1291.3,268.5C1292.6,268.5 1297.2,316.7 1298.5,316.7C1299.0,316.7 1300.8,223.8 1301.3,223.8C1301.8,223.8 1303.8,292.0 1304.3,292.0C1306.1,292.0 1312.6,243.4 1314.4,243.4C1315.2,243.4 1317.8,303.3 1318.6,303.3C1319.0,303.3 1320.6,233.8 1321.1,233.8C1321.6,233.8 1323.6,261.8 1324.1,261.8C1324.6,261.8 1326.5,238.4 1327.0,238.4C1328.0,238.4 1331.8,266.9 1332.8,266.9C1333.9,266.9 1337.6,218.8 1338.7,218.8C1339.2,218.8 1340.8,250.1 1341.2,250.1C1341.8,250.1 1343.9,231.7 1344.5,231.7" fill="none" stroke="#3d67af" stroke-width="3.3" stroke-linejoin="round"/><path d="M830.0,297.0L831.7,266.0L833.4,224.6L835.1,235.9L837.6,292.0L840.1,304.6L841.8,348.5L843.4,351.8L847.6,331.7L849.3,319.6L850.1,330.9L852.7,358.5L853.5,320.5L856.0,293.7L859.4,326.7L861.0,342.6L864.4,343.4L866.9,347.6L868.6,303.7L871.1,288.6L872.8,278.6L874.4,274.4L876.1,254.3L876.9,265.2L879.5,290.3L881.1,307.1L883.6,323.3L884.5,320.5L887.0,345.1L890.3,350.1L893.7,343.4L895.4,337.6L896.2,317.1L898.7,299.5L900.4,280.3L902.1,260.2L903.7,246.8L905.4,220.4L907.1,181.9L908.8,137.5L917.1,122.9L919.6,151.8L920.5,161.0L923.0,166.0L924.7,118.7L943.1,144.2L945.6,228.3L948.1,212.9L950.6,192.8L952.3,156.8L953.1,159.3L955.7,186.1L958.2,198.7L959.0,200.3L960.7,220.4L962.4,239.2L964.0,255.1L965.7,265.2L967.4,292.8L969.1,328.4L970.7,361.0L972.4,375.3L975.8,378.6L975.8,396.2L978.3,376.1L979.1,366.9L981.6,338.4L983.3,331.7L987.5,256.0L989.7,231.7L990.8,287.8L993.3,336.7L995.0,368.6L996.7,360.2L998.4,345.1L1000.0,328.4L1001.7,300.4L1004.2,308.7L1006.7,361.0L1007.6,278.6L1010.1,290.3L1012.6,278.6L1014.3,373.6L1015.1,344.3L1017.6,335.1L1021.0,304.6L1022.6,288.6L1023.5,278.6L1026.0,289.5L1028.5,317.1L1029.3,332.6L1031.0,338.4L1034.4,317.1L1037.7,318.8L1041.1,295.3L1042.7,245.9L1044.4,198.7L1046.1,181.9L1048.6,194.5L1050.3,223.8L1051.1,290.3L1053.6,330.9L1055.3,342.6L1059.5,306.2L1061.2,313.8L1064.5,317.1L1065.4,345.1L1068.7,362.7L1069.5,355.2L1072.9,338.4L1074.6,343.4L1077.1,335.1L1078.8,294.5L1080.4,252.6L1082.9,241.7L1089.6,278.6L1089.6,287.8L1092.1,243.4L1098.3,241.7L1100.9,245.9L1101.7,276.1L1102.5,286.1L1105.0,257.7L1106.7,221.3L1108.4,198.7L1122.6,303.7L1122.6,304.2L1122.6,322.6L1125.1,387.1L1126.8,350.2L1129.3,300.4L1131.0,287.8L1134.4,281.1L1135.2,265.2L1137.7,242.6L1138.5,251.8L1140.2,256.0L1142.7,258.5L1145.2,265.2L1146.1,292.0L1147.8,300.4L1149.4,320.9L1151.9,344.4L1153.6,358.6L1157.0,314.2L1157.0,314.6L1157.8,267.7L1159.5,217.1L1161.2,202.0L1162.0,198.7L1165.3,216.3L1167.0,245.9L1167.9,290.3L1169.5,326.0L1171.2,353.6L1173.7,343.5L1177.1,344.4L1178.7,361.1L1180.4,367.0L1181.3,357.8L1183.8,367.8L1185.4,343.5L1186.3,319.3L1186.3,319.6L1188.8,304.6L1190.5,313.8L1190.5,314.2L1193.8,320.1L1194.6,318.8L1197.2,325.1L1198.0,312.9L1199.7,313.4L1200.5,290.3L1203.0,300.4L1205.5,282.8L1207.2,268.5L1210.6,271.9L1213.1,302.9L1214.7,332.7L1216.4,362.8L1218.1,379.6L1219.8,356.1L1221.4,341.9L1223.1,303.7L1225.6,258.5L1227.3,252.6L1230.7,265.2L1232.3,282.8L1234.8,232.5L1237.4,211.2L1238.7,217.1L1239.0,227.5L1239.9,226.3L1242.4,266.9L1244.1,296.2L1245.7,329.3L1247.4,351.9L1249.1,343.5L1250.8,320.1L1252.4,289.5L1254.1,273.6L1255.8,260.2L1256.6,271.1L1260.8,290.3L1261.6,297.0L1265.8,266.0L1267.5,275.2L1269.2,292.0L1270.8,311.7L1270.8,312.1L1273.4,336.0L1275.0,342.7L1275.9,321.8L1277.5,288.6L1280.1,279.4L1282.6,288.6L1284.2,303.7L1285.9,305.0L1287.6,310.4L1288.4,311.7L1290.1,347.7L1291.8,377.9L1293.5,339.4L1295.1,302.0L1297.6,240.9L1299.3,225.5L1300.2,250.1L1302.7,302.9L1304.3,341.0L1306.0,335.2L1307.7,326.8L1310.2,302.0L1311.0,291.2L1312.7,317.9L1312.7,318.4L1314.4,338.5L1316.1,359.5L1318.6,365.3L1321.1,323.4L1322.8,259.3L1324.4,198.7L1327.0,161.8L1329.5,145.9L1332.0,150.9L1333.7,207.0L1335.3,265.2L1337.0,312.1L1338.7,339.4L1341.2,185.3" fill="none" stroke="#c44e52" stroke-opacity="0.6" stroke-width="3.3" stroke-linejoin="round"/><g fill="#c44e52" fill-opacity="0.6" stroke="#c44e52" stroke-opacity="0.6" stroke-width="1.1"><circle cx="830.0" cy="297.0" r="4.2"/><circle cx="831.7" cy="266.0" r="4.2"/><circle cx="833.4" cy="224.6" r="4.2"/><circle cx="835.1" cy="235.9" r="4.2"/><circle cx="837.6" cy="292.0" r="4.2"/><circle cx="840.1" cy="304.6" r="4.2"/><circle cx="841.8" cy="348.5" r="4.2"/><circle cx="843.4" cy="351.8" r="4.2"/><circle cx="847.6" cy="331.7" r="4.2"/><circle cx="849.3" cy="319.6" r="4.2"/><circle cx="850.1" cy="330.9" r="4.2"/><circle cx="852.7" cy="358.5" r="4.2"/><circle cx="853.5" cy="320.5" r="4.2"/><circle cx="856.0" cy="293.7" r="4.2"/><circle cx="859.4" cy="326.7" r="4.2"/><circle cx="861.0" cy="342.6" r="4.2"/><circle cx="864.4" cy="343.4" r="4.2"/><circle cx="866.9" cy="347.6" r="4.2"/><circle cx="868.6" cy="303.7" r="4.2"/><circle cx="871.1" cy="288.6" r="4.2"/><circle cx="872.8" cy="278.6" r="4.2"/><circle cx="874.4" cy="274.4" r="4.2"/><circle cx="876.1" cy="254.3" r="4.2"/><circle cx="876.9" cy="265.2" r="4.2"/><circle cx="879.5" cy="290.3" r="4.2"/><circle cx="881.1" cy="307.1" r="4.2"/><circle cx="883.6" cy="323.3" r="4.2"/><circle cx="884.5" cy="320.5" r="4.2"/><circle cx="887.0" cy="345.1" r="4.2"/><circle cx="890.3" cy="350.1" r="4.2"/><circle cx="893.7" cy="343.4" r="4.2"/><circle cx="895.4" cy="337.6" r="4.2"/><circle cx="896.2" cy="317.1" r="4.2"/><circle cx="898.7" cy="299.5" r="4.2"/><circle cx="900.4" cy="280.3" r="4.2"/><circle cx="902.1" cy="260.2" r="4.2"/><circle cx="903.7" cy="246.8" r="4.2"/><circle cx="905.4" cy="220.4" r="4.2"/><circle cx="907.1" cy="181.9" r="4.2"/><circle cx="908.8" cy="137.5" r="4.2"/><circle cx="917.1" cy="122.9" r="4.2"/><circle cx="919.6" cy="151.8" r="4.2"/><circle cx="920.5" cy="161.0" r="4.2"/><circle cx="923.0" cy="166.0" r="4.2"/><circle cx="924.7" cy="118.7" r="4.2"/><circle cx="943.1" cy="144.2" r="4.2"/><circle cx="945.6" cy="228.3" r="4.2"/><circle cx="948.1" cy="212.9" r="4.2"/><circle cx="950.6" cy="192.8" r="4.2"/><circle cx="952.3" cy="156.8" r="4.2"/><circle cx="953.1" cy="159.3" r="4.2"/><circle cx="955.7" cy="186.1" r="4.2"/><circle cx="958.2" cy="198.7" r="4.2"/><circle cx="959.0" cy="200.3" r="4.2"/><circle cx="960.7" cy="220.4" r="4.2"/><circle cx="962.4" cy="239.2" r="4.2"/><circle cx="964.0" cy="255.1" r="4.2"/><circle cx="965.7" cy="265.2" r="4.2"/><circle cx="967.4" cy="292.8" r="4.2"/><circle cx="969.1" cy="328.4" r="4.2"/><circle cx="970.7" cy="361.0" r="4.2"/><circle cx="972.4" cy="375.3" r="4.2"/><circle cx="975.8" cy="378.6" r="4.2"/><circle cx="975.8" cy="396.2" r="4.2"/><circle cx="978.3" cy="376.1" r="4.2"/><circle cx="979.1" cy="366.9" r="4.2"/><circle cx="981.6" cy="338.4" r="4.2"/><circle cx="983.3" cy="331.7" r="4.2"/><circle cx="987.5" cy="256.0" r="4.2"/><circle cx="989.7" cy="231.7" r="4.2"/><circle cx="990.8" cy="287.8" r="4.2"/><circle cx="993.3" cy="336.7" r="4.2"/><circle cx="995.0" cy="368.6" r="4.2"/><circle cx="996.7" cy="360.2" r="4.2"/><circle cx="998.4" cy="345.1" r="4.2"/><circle cx="1000.0" cy="328.4" r="4.2"/><circle cx="1001.7" cy="300.4" r="4.2"/><circle cx="1004.2" cy="308.7" r="4.2"/><circle cx="1006.7" cy="361.0" r="4.2"/><circle cx="1007.6" cy="278.6" r="4.2"/><circle cx="1010.1" cy="290.3" r="4.2"/><circle cx="1012.6" cy="278.6" r="4.2"/><circle cx="1014.3" cy="373.6" r="4.2"/><circle cx="1015.1" cy="344.3" r="4.2"/><circle cx="1017.6" cy="335.1" r="4.2"/><circle cx="1021.0" cy="304.6" r="4.2"/><circle cx="1022.6" cy="288.6" r="4.2"/><circle cx="1023.5" cy="278.6" r="4.2"/><circle cx="1026.0" cy="289.5" r="4.2"/><circle cx="1028.5" cy="317.1" r="4.2"/><circle cx="1029.3" cy="332.6" r="4.2"/><circle cx="1031.0" cy="338.4" r="4.2"/><circle cx="1034.4" cy="317.1" r="4.2"/><circle cx="1037.7" cy="318.8" r="4.2"/><circle cx="1041.1" cy="295.3" r="4.2"/><circle cx="1042.7" cy="245.9" r="4.2"/><circle cx="1044.4" cy="198.7" r="4.2"/><circle cx="1046.1" cy="181.9" r="4.2"/><circle cx="1048.6" cy="194.5" r="4.2"/><circle cx="1050.3" cy="223.8" r="4.2"/><circle cx="1051.1" cy="290.3" r="4.2"/><circle cx="1053.6" cy="330.9" r="4.2"/><circle cx="1055.3" cy="342.6" r="4.2"/><circle cx="1059.5" cy="306.2" r="4.2"/><circle cx="1061.2" cy="313.8" r="4.2"/><circle cx="1064.5" cy="317.1" r="4.2"/><circle cx="1065.4" cy="345.1" r="4.2"/><circle cx="1068.7" cy="362.7" r="4.2"/><circle cx="1069.5" cy="355.2" r="4.2"/><circle cx="1072.9" cy="338.4" r="4.2"/><circle cx="1074.6" cy="343.4" r="4.2"/><circle cx="1077.1" cy="335.1" r="4.2"/><circle cx="1078.8" cy="294.5" r="4.2"/><circle cx="1080.4" cy="252.6" r="4.2"/><circle cx="1082.9" cy="241.7" r="4.2"/><circle cx="1089.6" cy="278.6" r="4.2"/><circle cx="1089.6" cy="287.8" r="4.2"/><circle cx="1092.1" cy="243.4" r="4.2"/><circle cx="1098.3" cy="241.7" r="4.2"/><circle cx="1100.9" cy="245.9" r="4.2"/><circle cx="1101.7" cy="276.1" r="4.2"/><circle cx="1102.5" cy="286.1" r="4.2"/><circle cx="1105.0" cy="257.7" r="4.2"/><circle cx="1106.7" cy="221.3" r="4.2"/><circle cx="1108.4" cy="198.7" r="4.2"/><circle cx="1122.6" cy="303.7" r="4.2"/><circle cx="1122.6" cy="304.2" r="4.2"/><circle cx="1122.6" cy="322.6" r="4.2"/><circle cx="1125.1" cy="387.1" r="4.2"/><circle cx="1126.8" cy="350.2" r="4.2"/><circle cx="1129.3" cy="300.4" r="4.2"/><circle cx="1131.0" cy="287.8" r="4.2"/><circle cx="1134.4" cy="281.1" r="4.2"/><circle cx="1135.2" cy="265.2" r="4.2"/><circle cx="1137.7" cy="242.6" r="4.2"/><circle cx="1138.5" cy="251.8" r="4.2"/><circle cx="1140.2" cy="256.0" r="4.2"/><circle cx="1142.7" cy="258.5" r="4.2"/><circle cx="1145.2" cy="265.2" r="4.2"/><circle cx="1146.1" cy="292.0" r="4.2"/><circle cx="1147.8" cy="300.4" r="4.2"/><circle cx="1149.4" cy="320.9" r="4.2"/><circle cx="1151.9" cy="344.4" r="4.2"/><circle cx="1153.6" cy="358.6" r="4.2"/><circle cx="1157.0" cy="314.2" r="4.2"/><circle cx="1157.0" cy="314.6" r="4.2"/><circle cx="1157.8" cy="267.7" r="4.2"/><circle cx="1159.5" cy="217.1" r="4.2"/><circle cx="1161.2" cy="202.0" r="4.2"/><circle cx="1162.0" cy="198.7" r="4.2"/><circle cx="1165.3" cy="216.3" r="4.2"/><circle cx="1167.0" cy="245.9" r="4.2"/><circle cx="1167.9" cy="290.3" r="4.2"/><circle cx="1169.5" cy="326.0" r="4.2"/><circle cx="1171.2" cy="353.6" r="4.2"/><circle cx="1173.7" cy="343.5" r="4.2"/><circle cx="1177.1" cy="344.4" r="4.2"/><circle cx="1178.7" cy="361.1" r="4.2"/><circle cx="1180.4" cy="367.0" r="4.2"/><circle cx="1181.3" cy="357.8" r="4.2"/><circle cx="1183.8" cy="367.8" r="4.2"/><circle cx="1185.4" cy="343.5" r="4.2"/><circle cx="1186.3" cy="319.3" r="4.2"/><circle cx="1186.3" cy="319.6" r="4.2"/><circle cx="1188.8" cy="304.6" r="4.2"/><circle cx="1190.5" cy="313.8" r="4.2"/><circle cx="1190.5" cy="314.2" r="4.2"/><circle cx="1193.8" cy="320.1" r="4.2"/><circle cx="1194.6" cy="318.8" r="4.2"/><circle cx="1197.2" cy="325.1" r="4.2"/><circle cx="1198.0" cy="312.9" r="4.2"/><circle cx="1199.7" cy="313.4" r="4.2"/><circle cx="1200.5" cy="290.3" r="4.2"/><circle cx="1203.0" cy="300.4" r="4.2"/><circle cx="1205.5" cy="282.8" r="4.2"/><circle cx="1207.2" cy="268.5" r="4.2"/><circle cx="1210.6" cy="271.9" r="4.2"/><circle cx="1213.1" cy="302.9" r="4.2"/><circle cx="1214.7" cy="332.7" r="4.2"/><circle cx="1216.4" cy="362.8" r="4.2"/><circle cx="1218.1" cy="379.6" r="4.2"/><circle cx="1219.8" cy="356.1" r="4.2"/><circle cx="1221.4" cy="341.9" r="4.2"/><circle cx="1223.1" cy="303.7" r="4.2"/><circle cx="1225.6" cy="258.5" r="4.2"/><circle cx="1227.3" cy="252.6" r="4.2"/><circle cx="1230.7" cy="265.2" r="4.2"/><circle cx="1232.3" cy="282.8" r="4.2"/><circle cx="1234.8" cy="232.5" r="4.2"/><circle cx="1237.4" cy="211.2" r="4.2"/><circle cx="1238.7" cy="217.1" r="4.2"/><circle cx="1239.0" cy="227.5" r="4.2"/><circle cx="1239.9" cy="226.3" r="4.2"/><circle cx="1242.4" cy="266.9" r="4.2"/><circle cx="1244.1" cy="296.2" r="4.2"/><circle cx="1245.7" cy="329.3" r="4.2"/><circle cx="1247.4" cy="351.9" r="4.2"/><circle cx="1249.1" cy="343.5" r="4.2"/><circle cx="1250.8" cy="320.1" r="4.2"/><circle cx="1252.4" cy="289.5" r="4.2"/><circle cx="1254.1" cy="273.6" r="4.2"/><circle cx="1255.8" cy="260.2" r="4.2"/><circle cx="1256.6" cy="271.1" r="4.2"/><circle cx="1260.8" cy="290.3" r="4.2"/><circle cx="1261.6" cy="297.0" r="4.2"/><circle cx="1265.8" cy="266.0" r="4.2"/><circle cx="1267.5" cy="275.2" r="4.2"/><circle cx="1269.2" cy="292.0" r="4.2"/><circle cx="1270.8" cy="311.7" r="4.2"/><circle cx="1270.8" cy="312.1" r="4.2"/><circle cx="1273.4" cy="336.0" r="4.2"/><circle cx="1275.0" cy="342.7" r="4.2"/><circle cx="1275.9" cy="321.8" r="4.2"/><circle cx="1277.5" cy="288.6" r="4.2"/><circle cx="1280.1" cy="279.4" r="4.2"/><circle cx="1282.6" cy="288.6" r="4.2"/><circle cx="1284.2" cy="303.7" r="4.2"/><circle cx="1285.9" cy="305.0" r="4.2"/><circle cx="1287.6" cy="310.4" r="4.2"/><circle cx="1288.4" cy="311.7" r="4.2"/><circle cx="1290.1" cy="347.7" r="4.2"/><circle cx="1291.8" cy="377.9" r="4.2"/><circle cx="1293.5" cy="339.4" r="4.2"/><circle cx="1295.1" cy="302.0" r="4.2"/><circle cx="1297.6" cy="240.9" r="4.2"/><circle cx="1299.3" cy="225.5" r="4.2"/><circle cx="1300.2" cy="250.1" r="4.2"/><circle cx="1302.7" cy="302.9" r="4.2"/><circle cx="1304.3" cy="341.0" r="4.2"/><circle cx="1306.0" cy="335.2" r="4.2"/><circle cx="1307.7" cy="326.8" r="4.2"/><circle cx="1310.2" cy="302.0" r="4.2"/><circle cx="1311.0" cy="291.2" r="4.2"/><circle cx="1312.7" cy="317.9" r="4.2"/><circle cx="1312.7" cy="318.4" r="4.2"/><circle cx="1314.4" cy="338.5" r="4.2"/><circle cx="1316.1" cy="359.5" r="4.2"/><circle cx="1318.6" cy="365.3" r="4.2"/><circle cx="1321.1" cy="323.4" r="4.2"/><circle cx="1322.8" cy="259.3" r="4.2"/><circle cx="1324.4" cy="198.7" r="4.2"/><circle cx="1327.0" cy="161.8" r="4.2"/><circle cx="1329.5" cy="145.9" r="4.2"/><circle cx="1332.0" cy="150.9" r="4.2"/><circle cx="1333.7" cy="207.0" r="4.2"/><circle cx="1335.3" cy="265.2" r="4.2"/><circle cx="1337.0" cy="312.1" r="4.2"/><circle cx="1338.7" cy="339.4" r="4.2"/><circle cx="1341.2" cy="185.3" r="4.2"/></g></g><g clip-path="url(#c2)"><path d="M1508.1,342.0C1508.5,342.0 1511.3,360.4 1511.7,360.4C1512.0,360.4 1514.5,301.8 1514.8,301.8C1515.2,301.8 1518.0,388.4 1518.4,388.4C1518.7,388.4 1521.5,316.8 1521.8,316.8C1522.0,316.8 1524.0,408.5 1524.3,408.5C1524.6,408.5 1527.4,313.5 1527.7,313.5C1528.0,313.5 1530.0,381.7 1530.2,381.7C1530.5,381.7 1533.2,328.6 1533.5,328.6C1533.9,328.6 1537.3,422.8 1537.7,422.8C1538.0,422.8 1540.8,353.7 1541.1,353.7C1541.6,353.7 1545.6,388.4 1546.1,388.4C1546.8,388.4 1552.8,310.1 1553.6,310.1C1554.1,310.1 1558.5,418.6 1559.0,418.6C1559.6,418.6 1564.7,316.8 1565.3,316.8C1565.6,316.8 1568.4,368.8 1568.7,368.8C1569.0,368.8 1571.7,343.6 1572.0,343.6C1572.8,343.6 1578.8,384.2 1579.6,384.2C1579.9,384.2 1582.6,363.7 1582.9,363.7C1583.2,363.7 1586.0,373.3 1586.3,373.3C1588.4,373.3 1604.8,121.8 1606.9,121.8C1607.4,121.8 1611.7,188.3 1612.2,188.3C1612.7,188.3 1616.8,130.2 1617.3,130.2C1617.5,130.2 1619.5,183.8 1619.8,183.8C1620.0,183.8 1622.0,147.8 1622.3,147.8C1622.5,147.8 1624.5,272.1 1624.8,272.1C1625.2,272.1 1628.6,201.7 1629.0,201.7C1629.6,201.7 1634.2,233.6 1634.8,233.6C1635.4,233.6 1640.1,213.5 1640.7,213.5C1641.1,213.5 1644.5,225.2 1644.9,225.2C1645.3,225.2 1648.7,123.5 1649.1,123.5C1649.8,123.5 1655.1,278.8 1655.8,278.8C1656.7,278.8 1663.8,90.0 1664.7,90.0C1665.2,90.0 1668.8,262.0 1669.2,262.0C1669.5,262.0 1671.9,177.1 1672.2,177.1C1672.6,177.1 1675.5,275.4 1675.9,275.4C1676.4,275.4 1680.4,201.7 1680.9,201.7C1681.2,201.7 1683.9,216.8 1684.2,216.8C1684.5,216.8 1687.3,168.7 1687.6,168.7C1688.1,168.7 1692.1,226.9 1692.6,226.9C1692.8,226.9 1694.8,201.7 1695.1,201.7C1695.5,201.7 1698.9,276.3 1699.3,276.3C1699.7,276.3 1702.8,173.7 1703.2,173.7C1703.6,173.7 1706.5,196.7 1706.9,196.7C1707.3,196.7 1710.6,116.8 1711.0,116.8C1711.6,116.8 1716.3,230.2 1716.9,230.2C1717.1,230.2 1718.4,181.3 1718.6,181.3C1719.1,181.3 1723.1,328.6 1723.6,328.6C1724.7,328.6 1733.7,169.6 1734.8,169.6C1735.1,169.6 1737.5,200.5 1737.8,200.5C1738.1,200.5 1740.9,140.2 1741.2,140.2C1742.2,140.2 1749.9,309.3 1750.9,309.3C1751.2,309.3 1753.9,186.7 1754.2,186.7C1754.5,186.7 1757.3,255.3 1757.6,255.3C1757.9,255.3 1760.6,188.3 1760.9,188.3C1761.2,188.3 1763.2,235.2 1763.4,235.2C1763.7,235.2 1765.7,190.0 1766.0,190.0C1766.2,190.0 1768.2,235.2 1768.5,235.2C1768.8,235.2 1771.5,208.4 1771.8,208.4C1772.3,208.4 1776.0,262.0 1776.5,262.0C1777.2,262.0 1782.8,200.1 1783.5,200.1C1783.8,200.1 1785.8,228.5 1786.1,228.5C1786.6,228.5 1790.6,206.8 1791.1,206.8C1791.5,206.8 1794.9,252.0 1795.3,252.0C1796.4,252.0 1805.1,203.4 1806.2,203.4C1806.8,203.4 1811.4,244.5 1812.0,244.5C1812.4,244.5 1815.8,225.2 1816.2,225.2C1816.5,225.2 1818.5,235.2 1818.7,235.2C1819.0,235.2 1821.8,228.5 1822.1,228.5C1822.7,228.5 1827.3,253.7 1827.9,253.7C1828.7,253.7 1834.7,205.9 1835.5,205.9C1836.0,205.9 1840.0,243.6 1840.5,243.6C1840.9,243.6 1844.3,220.2 1844.7,220.2C1845.1,220.2 1848.5,282.1 1848.9,282.1C1849.5,282.1 1854.1,247.0 1854.7,247.0C1855.0,247.0 1857.0,335.3 1857.2,335.3C1857.6,335.3 1861.0,298.4 1861.4,298.4C1862.1,298.4 1867.3,426.6 1868.0,426.6C1868.7,426.6 1874.1,328.6 1874.8,328.6C1875.1,328.6 1877.9,419.2 1878.2,419.2C1878.5,419.2 1881.2,362.0 1881.5,362.0C1881.8,362.0 1884.3,438.6 1884.6,438.6C1885.0,438.6 1888.6,343.6 1889.1,343.6C1889.5,343.6 1892.5,456.0 1892.9,456.0C1893.3,456.0 1896.1,380.0 1896.5,380.0C1896.9,380.0 1899.9,467.1 1900.3,467.1C1900.9,467.1 1906.0,342.0 1906.6,342.0C1907.6,342.0 1915.8,423.8 1916.8,423.8C1917.2,423.8 1920.1,390.0 1920.5,390.0C1920.9,390.0 1923.8,430.3 1924.2,430.3C1924.5,430.3 1926.7,400.0 1927.0,400.0C1927.3,400.0 1929.4,386.0 1929.7,386.0C1930.0,386.0 1932.3,296.7 1932.6,296.7C1933.0,296.7 1936.4,348.7 1936.8,348.7C1937.1,348.7 1939.8,290.0 1940.1,290.0C1940.9,290.0 1947.7,316.0 1948.5,316.0C1948.8,316.0 1951.1,253.7 1951.4,253.7C1952.0,253.7 1957.1,312.7 1957.7,312.7C1958.0,312.7 1960.7,290.0 1961.0,290.0C1961.3,290.0 1964.1,337.8 1964.4,337.8C1964.9,337.8 1969.3,218.5 1969.8,218.5C1970.1,218.5 1972.5,316.0 1972.8,316.0C1973.2,316.0 1976.2,216.0 1976.6,216.0C1977.6,216.0 1985.8,406.3 1986.8,406.3C1987.2,406.3 1990.8,240.3 1991.2,240.3C1992.1,240.3 1999.1,382.0 2000.0,382.0C2000.8,382.0 2007.2,268.7 2008.0,268.7C2008.7,268.7 2014.0,343.6 2014.7,343.6C2015.4,343.6 2021.2,268.0 2021.9,268.0" fill="none" stroke="#3d67af" stroke-opacity="0.5" stroke-width="3.4" stroke-linejoin="round"/><path d="M1508.1,342.0C1508.7,342.0 1511.1,352.0 1511.7,352.0C1512.3,352.0 1514.2,316.0 1514.8,316.0C1515.4,316.0 1517.8,383.4 1518.4,383.4C1519.0,383.4 1521.2,330.2 1521.8,330.2C1522.2,330.2 1523.8,406.8 1524.3,406.8C1524.9,406.8 1527.1,328.6 1527.7,328.6C1528.2,328.6 1529.8,378.4 1530.2,378.4C1530.8,378.4 1532.9,330.2 1533.5,330.2C1534.3,330.2 1536.9,415.2 1537.7,415.2C1538.3,415.2 1540.5,355.4 1541.1,355.4C1542.0,355.4 1545.2,386.7 1546.1,386.7C1547.4,386.7 1552.2,316.8 1553.6,316.8C1554.6,316.8 1558.0,415.2 1559.0,415.2C1560.1,415.2 1564.2,323.5 1565.3,323.5C1565.9,323.5 1568.1,367.1 1568.7,367.1C1569.3,367.1 1571.4,345.3 1572.0,345.3C1573.4,345.3 1578.2,380.0 1579.6,380.0C1580.2,380.0 1582.3,363.7 1582.9,363.7C1583.5,363.7 1585.7,371.7 1586.3,371.7C1590.0,371.7 1603.2,127.7 1606.9,127.7C1607.9,127.7 1611.2,188.3 1612.2,188.3C1613.1,188.3 1616.4,141.1 1617.3,141.1C1617.8,141.1 1619.3,183.8 1619.8,183.8C1620.2,183.8 1621.8,162.9 1622.3,162.9C1622.8,162.9 1624.3,268.7 1624.8,268.7C1625.6,268.7 1628.2,206.8 1629.0,206.8C1630.0,206.8 1633.8,233.6 1634.8,233.6C1635.9,233.6 1639.6,213.5 1640.7,213.5C1641.5,213.5 1644.1,225.2 1644.9,225.2C1645.7,225.2 1648.3,131.0 1649.1,131.0C1650.3,131.0 1654.6,275.4 1655.8,275.4C1657.4,275.4 1663.1,100.0 1664.7,100.0C1665.5,100.0 1668.4,248.6 1669.2,248.6C1669.7,248.6 1671.7,190.5 1672.2,190.5C1672.9,190.5 1675.2,272.1 1675.9,272.1C1676.8,272.1 1680.0,205.1 1680.9,205.1C1681.5,205.1 1683.6,216.8 1684.2,216.8C1684.8,216.8 1687.0,172.1 1687.6,172.1C1688.5,172.1 1691.7,226.9 1692.6,226.9C1693.0,226.9 1694.6,210.1 1695.1,210.1C1695.9,210.1 1698.5,272.1 1699.3,272.1C1700.0,272.1 1702.5,177.1 1703.2,177.1C1703.9,177.1 1706.2,191.7 1706.9,191.7C1707.6,191.7 1710.3,118.5 1711.0,118.5C1712.1,118.5 1715.8,215.1 1716.9,215.1C1717.2,215.1 1718.3,190.5 1718.6,190.5C1719.5,190.5 1722.7,315.2 1723.6,315.2C1725.6,315.2 1732.8,172.9 1734.8,172.9C1735.3,172.9 1737.3,200.5 1737.8,200.5C1738.4,200.5 1740.6,143.6 1741.2,143.6C1742.9,143.6 1749.2,300.1 1750.9,300.1C1751.5,300.1 1753.6,188.3 1754.2,188.3C1754.8,188.3 1757.0,255.3 1757.6,255.3C1758.2,255.3 1760.3,190.0 1760.9,190.0C1761.4,190.0 1763.0,235.2 1763.4,235.2C1763.9,235.2 1765.5,191.7 1766.0,191.7C1766.5,191.7 1768.0,235.2 1768.5,235.2C1769.1,235.2 1771.2,210.1 1771.8,210.1C1772.6,210.1 1775.7,261.2 1776.5,261.2C1777.8,261.2 1782.2,203.4 1783.5,203.4C1784.0,203.4 1785.6,223.5 1786.1,223.5C1787.0,223.5 1790.2,208.4 1791.1,208.4C1791.9,208.4 1794.5,248.6 1795.3,248.6C1797.3,248.6 1804.2,203.4 1806.2,203.4C1807.2,203.4 1811.0,243.6 1812.0,243.6C1812.8,243.6 1815.4,226.9 1816.2,226.9C1816.7,226.9 1818.2,235.2 1818.7,235.2C1819.3,235.2 1821.5,228.5 1822.1,228.5C1823.1,228.5 1826.9,252.0 1827.9,252.0C1829.3,252.0 1834.1,211.8 1835.5,211.8C1836.4,211.8 1839.6,243.6 1840.5,243.6C1841.3,243.6 1843.9,223.5 1844.7,223.5C1845.5,223.5 1848.1,280.5 1848.9,280.5C1849.9,280.5 1853.7,252.0 1854.7,252.0C1855.2,252.0 1856.8,328.6 1857.2,328.6C1858.0,328.6 1860.6,298.4 1861.4,298.4C1862.6,298.4 1866.8,421.1 1868.0,421.1C1869.2,421.1 1873.6,341.1 1874.8,341.1C1875.4,341.1 1877.6,411.8 1878.2,411.8C1878.8,411.8 1880.9,363.7 1881.5,363.7C1882.1,363.7 1884.0,424.7 1884.6,424.7C1885.4,424.7 1888.3,345.3 1889.1,345.3C1889.8,345.3 1892.2,443.2 1892.9,443.2C1893.5,443.2 1895.9,380.0 1896.5,380.0C1897.2,380.0 1899.6,456.0 1900.3,456.0C1901.4,456.0 1905.5,352.0 1906.6,352.0C1908.4,352.0 1915.0,417.4 1916.8,417.4C1917.5,417.4 1919.8,390.0 1920.5,390.0C1921.2,390.0 1923.5,421.1 1924.2,421.1C1924.7,421.1 1926.5,400.0 1927.0,400.0C1927.5,400.0 1929.2,382.4 1929.7,382.4C1930.2,382.4 1932.1,296.7 1932.6,296.7C1933.4,296.7 1936.0,335.3 1936.8,335.3C1937.4,335.3 1939.5,290.0 1940.1,290.0C1941.6,290.0 1947.0,313.5 1948.5,313.5C1949.0,313.5 1950.9,255.3 1951.4,255.3C1952.5,255.3 1956.6,310.1 1957.7,310.1C1958.3,310.1 1960.4,290.0 1961.0,290.0C1961.6,290.0 1963.8,335.3 1964.4,335.3C1965.4,335.3 1968.8,218.5 1969.8,218.5C1970.3,218.5 1972.3,298.4 1972.8,298.4C1973.5,298.4 1975.9,216.0 1976.6,216.0C1978.4,216.0 1985.0,399.0 1986.8,399.0C1987.6,399.0 1990.4,243.6 1991.2,243.6C1992.8,243.6 1998.4,376.0 2000.0,376.0C2001.4,376.0 2006.6,270.4 2008.0,270.4C2009.2,270.4 2013.5,342.0 2014.7,342.0C2016.0,342.0 2020.6,283.0 2021.9,283.0" fill="none" stroke="#3d67af" stroke-width="3.3" stroke-linejoin="round"/><path d="M1508.4,333.6L1509.2,342.0L1510.1,390.9L1510.9,406.0L1512.6,384.2L1515.1,447.0L1517.6,414.4L1520.1,421.9L1521.8,407.7L1524.3,428.6L1525.1,437.8L1526.8,372.9L1528.5,342.0L1530.2,318.5L1532.7,319.4L1533.5,342.8L1535.2,371.7L1536.0,371.3L1536.9,353.7L1539.4,317.7L1540.2,269.6L1543.6,352.0L1545.2,351.2L1547.8,385.1L1548.6,411.0L1551.1,397.6L1551.9,356.2L1554.5,296.7L1556.1,310.1L1558.6,333.6L1561.2,331.1L1562.8,342.8L1565.3,355.4L1567.0,380.0L1567.9,398.5L1569.5,391.8L1572.0,367.1L1573.7,360.4L1577.1,381.7L1577.9,404.3L1580.4,418.6L1583.8,420.2L1585.4,404.3L1587.1,397.6L1588.8,377.5L1590.5,354.5L1592.1,342.8L1593.8,321.9L1595.5,283.0L1595.5,285.0L1597.2,256.2L1598.8,243.6L1600.5,234.4L1603.0,210.1L1604.7,212.6L1608.0,195.9L1608.9,185.5L1612.2,174.6L1614.7,180.4L1618.1,181.3L1619.8,206.8L1621.4,213.5L1623.1,222.7L1624.0,248.6L1627.3,252.0L1628.1,260.4L1629.8,276.3L1631.5,236.9L1632.3,263.7L1634.8,290.0L1636.5,304.3L1637.4,245.3L1639.0,280.5L1642.4,288.4L1643.2,279.6L1644.9,245.3L1647.4,162.0L1649.1,164.5L1650.8,173.7L1654.1,141.9L1654.9,120.1L1657.5,144.4L1660.0,177.1L1661.6,182.9L1663.3,231.1L1664.2,255.3L1665.8,211.0L1668.3,171.2L1670.0,143.6L1671.7,116.0L1673.4,126.0L1675.0,167.9L1676.7,233.6L1678.4,277.9L1679.2,300.9L1681.7,240.3L1683.4,283.8L1683.4,286.7L1685.1,274.6L1686.8,261.2L1688.4,225.2L1690.1,199.2L1691.8,187.1L1693.5,158.7L1694.3,141.9L1696.8,124.3L1700.2,140.2L1701.0,123.5L1703.5,130.2L1706.0,136.9L1706.9,116.0L1709.4,103.4L1712.7,100.0L1714.4,120.1L1716.1,150.3L1717.7,163.7L1719.4,167.0L1721.1,155.3L1722.8,171.2L1724.4,201.7L1726.1,234.4L1727.8,243.6L1729.5,252.0L1733.7,268.7L1736.2,265.4L1737.8,209.3L1739.5,166.2L1741.2,144.4L1744.5,145.3L1746.7,147.8L1747.5,158.7L1748.4,168.7L1750.0,203.4L1751.7,213.5L1754.2,241.9L1756.7,262.0L1758.4,277.9L1760.9,294.2L1762.6,282.1L1765.1,243.6L1765.1,283.3L1768.5,239.4L1769.3,193.4L1771.0,169.6L1772.7,172.1L1774.3,184.6L1778.5,169.6L1779.4,157.0L1781.9,183.8L1784.4,173.7L1786.1,143.6L1788.6,154.5L1789.4,197.6L1791.1,152.8L1792.8,192.5L1794.4,145.3L1796.9,168.7L1799.5,194.2L1802.8,136.9L1805.3,128.5L1807.0,149.5L1808.7,170.4L1810.3,181.3L1811.2,190.0L1813.7,200.1L1815.4,216.0L1817.0,236.9L1818.7,230.2L1822.1,211.0L1825.4,215.1L1827.1,218.5L1828.8,209.3L1829.6,187.1L1831.3,233.6L1832.1,257.0L1835.5,255.3L1838.8,250.3L1839.6,228.5L1840.5,216.0L1843.0,197.6L1844.7,207.6L1847.2,215.1L1848.0,256.2L1849.7,236.9L1851.4,240.3L1853.9,197.6L1855.6,213.5L1857.2,227.7L1858.9,257.0L1859.7,306.0L1861.4,348.7L1863.9,370.4L1865.3,392.5L1867.1,458.8L1869.0,292.6L1869.8,375.5L1880.9,412.8L1885.7,357.9L1889.1,370.4L1890.7,339.5L1891.6,362.1L1894.1,357.9L1896.6,310.1L1897.4,346.2L1899.9,369.6L1901.2,412.8L1906.7,476.3L1908.6,463.4L1910.4,425.7L1910.8,376.3L1913.3,351.2L1915.0,372.1L1917.8,396.2L1919.6,410.9L1921.7,273.8L1924.2,255.3L1924.2,298.4L1926.7,267.1L1930.1,248.6L1932.6,252.0L1934.3,272.1L1935.1,300.9L1937.6,309.3L1939.3,322.7L1941.8,296.7L1942.6,276.3L1944.3,245.3L1946.0,215.1L1947.7,217.7L1949.3,198.4L1951.0,190.0L1954.4,191.7L1957.7,198.4L1957.7,212.6L1960.2,249.5L1961.9,347.0L1962.9,394.3L1963.8,387.9L1966.1,378.0L1967.5,379.6L1970.3,386.1L1972.1,398.9L1973.6,375.5L1975.3,307.6L1977.8,260.4L1981.2,247.8L1983.7,241.9L1986.2,225.2L1989.5,290.0L1991.2,228.5L1992.9,272.9L1994.6,316.0L1997.9,306.0L1998.8,282.1L2001.3,296.7L2002.9,262.9L2004.6,353.7L2006.2,403.6L2008.0,419.2L2009.9,410.0L2012.6,387.9L2014.7,357.0L2016.3,393.4L2018.2,401.7L2020.5,287.0" fill="none" stroke="#c44e52" stroke-opacity="0.6" stroke-width="3.3" stroke-linejoin="round"/><g fill="#c44e52" fill-opacity="0.6" stroke="#c44e52" stroke-opacity="0.6" stroke-width="1.1"><circle cx="1508.4" cy="333.6" r="4.2"/><circle cx="1509.2" cy="342.0" r="4.2"/><circle cx="1510.1" cy="390.9" r="4.2"/><circle cx="1510.9" cy="406.0" r="4.2"/><circle cx="1512.6" cy="384.2" r="4.2"/><circle cx="1515.1" cy="447.0" r="4.2"/><circle cx="1517.6" cy="414.4" r="4.2"/><circle cx="1520.1" cy="421.9" r="4.2"/><circle cx="1521.8" cy="407.7" r="4.2"/><circle cx="1524.3" cy="428.6" r="4.2"/><circle cx="1525.1" cy="437.8" r="4.2"/><circle cx="1526.8" cy="372.9" r="4.2"/><circle cx="1528.5" cy="342.0" r="4.2"/><circle cx="1530.2" cy="318.5" r="4.2"/><circle cx="1532.7" cy="319.4" r="4.2"/><circle cx="1533.5" cy="342.8" r="4.2"/><circle cx="1535.2" cy="371.7" r="4.2"/><circle cx="1536.0" cy="371.3" r="4.2"/><circle cx="1536.9" cy="353.7" r="4.2"/><circle cx="1539.4" cy="317.7" r="4.2"/><circle cx="1540.2" cy="269.6" r="4.2"/><circle cx="1543.6" cy="352.0" r="4.2"/><circle cx="1545.2" cy="351.2" r="4.2"/><circle cx="1547.8" cy="385.1" r="4.2"/><circle cx="1548.6" cy="411.0" r="4.2"/><circle cx="1551.1" cy="397.6" r="4.2"/><circle cx="1551.9" cy="356.2" r="4.2"/><circle cx="1554.5" cy="296.7" r="4.2"/><circle cx="1556.1" cy="310.1" r="4.2"/><circle cx="1558.6" cy="333.6" r="4.2"/><circle cx="1561.2" cy="331.1" r="4.2"/><circle cx="1562.8" cy="342.8" r="4.2"/><circle cx="1565.3" cy="355.4" r="4.2"/><circle cx="1567.0" cy="380.0" r="4.2"/><circle cx="1567.9" cy="398.5" r="4.2"/><circle cx="1569.5" cy="391.8" r="4.2"/><circle cx="1572.0" cy="367.1" r="4.2"/><circle cx="1573.7" cy="360.4" r="4.2"/><circle cx="1577.1" cy="381.7" r="4.2"/><circle cx="1577.9" cy="404.3" r="4.2"/><circle cx="1580.4" cy="418.6" r="4.2"/><circle cx="1583.8" cy="420.2" r="4.2"/><circle cx="1585.4" cy="404.3" r="4.2"/><circle cx="1587.1" cy="397.6" r="4.2"/><circle cx="1588.8" cy="377.5" r="4.2"/><circle cx="1590.5" cy="354.5" r="4.2"/><circle cx="1592.1" cy="342.8" r="4.2"/><circle cx="1593.8" cy="321.9" r="4.2"/><circle cx="1595.5" cy="283.0" r="4.2"/><circle cx="1595.5" cy="285.0" r="4.2"/><circle cx="1597.2" cy="256.2" r="4.2"/><circle cx="1598.8" cy="243.6" r="4.2"/><circle cx="1600.5" cy="234.4" r="4.2"/><circle cx="1603.0" cy="210.1" r="4.2"/><circle cx="1604.7" cy="212.6" r="4.2"/><circle cx="1608.0" cy="195.9" r="4.2"/><circle cx="1608.9" cy="185.5" r="4.2"/><circle cx="1612.2" cy="174.6" r="4.2"/><circle cx="1614.7" cy="180.4" r="4.2"/><circle cx="1618.1" cy="181.3" r="4.2"/><circle cx="1619.8" cy="206.8" r="4.2"/><circle cx="1621.4" cy="213.5" r="4.2"/><circle cx="1623.1" cy="222.7" r="4.2"/><circle cx="1624.0" cy="248.6" r="4.2"/><circle cx="1627.3" cy="252.0" r="4.2"/><circle cx="1628.1" cy="260.4" r="4.2"/><circle cx="1629.8" cy="276.3" r="4.2"/><circle cx="1631.5" cy="236.9" r="4.2"/><circle cx="1632.3" cy="263.7" r="4.2"/><circle cx="1634.8" cy="290.0" r="4.2"/><circle cx="1636.5" cy="304.3" r="4.2"/><circle cx="1637.4" cy="245.3" r="4.2"/><circle cx="1639.0" cy="280.5" r="4.2"/><circle cx="1642.4" cy="288.4" r="4.2"/><circle cx="1643.2" cy="279.6" r="4.2"/><circle cx="1644.9" cy="245.3" r="4.2"/><circle cx="1647.4" cy="162.0" r="4.2"/><circle cx="1649.1" cy="164.5" r="4.2"/><circle cx="1650.8" cy="173.7" r="4.2"/><circle cx="1654.1" cy="141.9" r="4.2"/><circle cx="1654.9" cy="120.1" r="4.2"/><circle cx="1657.5" cy="144.4" r="4.2"/><circle cx="1660.0" cy="177.1" r="4.2"/><circle cx="1661.6" cy="182.9" r="4.2"/><circle cx="1663.3" cy="231.1" r="4.2"/><circle cx="1664.2" cy="255.3" r="4.2"/><circle cx="1665.8" cy="211.0" r="4.2"/><circle cx="1668.3" cy="171.2" r="4.2"/><circle cx="1670.0" cy="143.6" r="4.2"/><circle cx="1671.7" cy="116.0" r="4.2"/><circle cx="1673.4" cy="126.0" r="4.2"/><circle cx="1675.0" cy="167.9" r="4.2"/><circle cx="1676.7" cy="233.6" r="4.2"/><circle cx="1678.4" cy="277.9" r="4.2"/><circle cx="1679.2" cy="300.9" r="4.2"/><circle cx="1681.7" cy="240.3" r="4.2"/><circle cx="1683.4" cy="283.8" r="4.2"/><circle cx="1683.4" cy="286.7" r="4.2"/><circle cx="1685.1" cy="274.6" r="4.2"/><circle cx="1686.8" cy="261.2" r="4.2"/><circle cx="1688.4" cy="225.2" r="4.2"/><circle cx="1690.1" cy="199.2" r="4.2"/><circle cx="1691.8" cy="187.1" r="4.2"/><circle cx="1693.5" cy="158.7" r="4.2"/><circle cx="1694.3" cy="141.9" r="4.2"/><circle cx="1696.8" cy="124.3" r="4.2"/><circle cx="1700.2" cy="140.2" r="4.2"/><circle cx="1701.0" cy="123.5" r="4.2"/><circle cx="1703.5" cy="130.2" r="4.2"/><circle cx="1706.0" cy="136.9" r="4.2"/><circle cx="1706.9" cy="116.0" r="4.2"/><circle cx="1709.4" cy="103.4" r="4.2"/><circle cx="1712.7" cy="100.0" r="4.2"/><circle cx="1714.4" cy="120.1" r="4.2"/><circle cx="1716.1" cy="150.3" r="4.2"/><circle cx="1717.7" cy="163.7" r="4.2"/><circle cx="1719.4" cy="167.0" r="4.2"/><circle cx="1721.1" cy="155.3" r="4.2"/><circle cx="1722.8" cy="171.2" r="4.2"/><circle cx="1724.4" cy="201.7" r="4.2"/><circle cx="1726.1" cy="234.4" r="4.2"/><circle cx="1727.8" cy="243.6" r="4.2"/><circle cx="1729.5" cy="252.0" r="4.2"/><circle cx="1733.7" cy="268.7" r="4.2"/><circle cx="1736.2" cy="265.4" r="4.2"/><circle cx="1737.8" cy="209.3" r="4.2"/><circle cx="1739.5" cy="166.2" r="4.2"/><circle cx="1741.2" cy="144.4" r="4.2"/><circle cx="1744.5" cy="145.3" r="4.2"/><circle cx="1746.7" cy="147.8" r="4.2"/><circle cx="1747.5" cy="158.7" r="4.2"/><circle cx="1748.4" cy="168.7" r="4.2"/><circle cx="1750.0" cy="203.4" r="4.2"/><circle cx="1751.7" cy="213.5" r="4.2"/><circle cx="1754.2" cy="241.9" r="4.2"/><circle cx="1756.7" cy="262.0" r="4.2"/><circle cx="1758.4" cy="277.9" r="4.2"/><circle cx="1760.9" cy="294.2" r="4.2"/><circle cx="1762.6" cy="282.1" r="4.2"/><circle cx="1765.1" cy="243.6" r="4.2"/><circle cx="1765.1" cy="283.3" r="4.2"/><circle cx="1768.5" cy="239.4" r="4.2"/><circle cx="1769.3" cy="193.4" r="4.2"/><circle cx="1771.0" cy="169.6" r="4.2"/><circle cx="1772.7" cy="172.1" r="4.2"/><circle cx="1774.3" cy="184.6" r="4.2"/><circle cx="1778.5" cy="169.6" r="4.2"/><circle cx="1779.4" cy="157.0" r="4.2"/><circle cx="1781.9" cy="183.8" r="4.2"/><circle cx="1784.4" cy="173.7" r="4.2"/><circle cx="1786.1" cy="143.6" r="4.2"/><circle cx="1788.6" cy="154.5" r="4.2"/><circle cx="1789.4" cy="197.6" r="4.2"/><circle cx="1791.1" cy="152.8" r="4.2"/><circle cx="1792.8" cy="192.5" r="4.2"/><circle cx="1794.4" cy="145.3" r="4.2"/><circle cx="1796.9" cy="168.7" r="4.2"/><circle cx="1799.5" cy="194.2" r="4.2"/><circle cx="1802.8" cy="136.9" r="4.2"/><circle cx="1805.3" cy="128.5" r="4.2"/><circle cx="1807.0" cy="149.5" r="4.2"/><circle cx="1808.7" cy="170.4" r="4.2"/><circle cx="1810.3" cy="181.3" r="4.2"/><circle cx="1811.2" cy="190.0" r="4.2"/><circle cx="1813.7" cy="200.1" r="4.2"/><circle cx="1815.4" cy="216.0" r="4.2"/><circle cx="1817.0" cy="236.9" r="4.2"/><circle cx="1818.7" cy="230.2" r="4.2"/><circle cx="1822.1" cy="211.0" r="4.2"/><circle cx="1825.4" cy="215.1" r="4.2"/><circle cx="1827.1" cy="218.5" r="4.2"/><circle cx="1828.8" cy="209.3" r="4.2"/><circle cx="1829.6" cy="187.1" r="4.2"/><circle cx="1831.3" cy="233.6" r="4.2"/><circle cx="1832.1" cy="257.0" r="4.2"/><circle cx="1835.5" cy="255.3" r="4.2"/><circle cx="1838.8" cy="250.3" r="4.2"/><circle cx="1839.6" cy="228.5" r="4.2"/><circle cx="1840.5" cy="216.0" r="4.2"/><circle cx="1843.0" cy="197.6" r="4.2"/><circle cx="1844.7" cy="207.6" r="4.2"/><circle cx="1847.2" cy="215.1" r="4.2"/><circle cx="1848.0" cy="256.2" r="4.2"/><circle cx="1849.7" cy="236.9" r="4.2"/><circle cx="1851.4" cy="240.3" r="4.2"/><circle cx="1853.9" cy="197.6" r="4.2"/><circle cx="1855.6" cy="213.5" r="4.2"/><circle cx="1857.2" cy="227.7" r="4.2"/><circle cx="1858.9" cy="257.0" r="4.2"/><circle cx="1859.7" cy="306.0" r="4.2"/><circle cx="1861.4" cy="348.7" r="4.2"/><circle cx="1863.9" cy="370.4" r="4.2"/><circle cx="1865.3" cy="392.5" r="4.2"/><circle cx="1867.1" cy="458.8" r="4.2"/><circle cx="1869.0" cy="292.6" r="4.2"/><circle cx="1869.8" cy="375.5" r="4.2"/><circle cx="1880.9" cy="412.8" r="4.2"/><circle cx="1885.7" cy="357.9" r="4.2"/><circle cx="1889.1" cy="370.4" r="4.2"/><circle cx="1890.7" cy="339.5" r="4.2"/><circle cx="1891.6" cy="362.1" r="4.2"/><circle cx="1894.1" cy="357.9" r="4.2"/><circle cx="1896.6" cy="310.1" r="4.2"/><circle cx="1897.4" cy="346.2" r="4.2"/><circle cx="1899.9" cy="369.6" r="4.2"/><circle cx="1901.2" cy="412.8" r="4.2"/><circle cx="1906.7" cy="476.3" r="4.2"/><circle cx="1908.6" cy="463.4" r="4.2"/><circle cx="1910.4" cy="425.7" r="4.2"/><circle cx="1910.8" cy="376.3" r="4.2"/><circle cx="1913.3" cy="351.2" r="4.2"/><circle cx="1915.0" cy="372.1" r="4.2"/><circle cx="1917.8" cy="396.2" r="4.2"/><circle cx="1919.6" cy="410.9" r="4.2"/><circle cx="1921.7" cy="273.8" r="4.2"/><circle cx="1924.2" cy="255.3" r="4.2"/><circle cx="1924.2" cy="298.4" r="4.2"/><circle cx="1926.7" cy="267.1" r="4.2"/><circle cx="1930.1" cy="248.6" r="4.2"/><circle cx="1932.6" cy="252.0" r="4.2"/><circle cx="1934.3" cy="272.1" r="4.2"/><circle cx="1935.1" cy="300.9" r="4.2"/><circle cx="1937.6" cy="309.3" r="4.2"/><circle cx="1939.3" cy="322.7" r="4.2"/><circle cx="1941.8" cy="296.7" r="4.2"/><circle cx="1942.6" cy="276.3" r="4.2"/><circle cx="1944.3" cy="245.3" r="4.2"/><circle cx="1946.0" cy="215.1" r="4.2"/><circle cx="1947.7" cy="217.7" r="4.2"/><circle cx="1949.3" cy="198.4" r="4.2"/><circle cx="1951.0" cy="190.0" r="4.2"/><circle cx="1954.4" cy="191.7" r="4.2"/><circle cx="1957.7" cy="198.4" r="4.2"/><circle cx="1957.7" cy="212.6" r="4.2"/><circle cx="1960.2" cy="249.5" r="4.2"/><circle cx="1961.9" cy="347.0" r="4.2"/><circle cx="1962.9" cy="394.3" r="4.2"/><circle cx="1963.8" cy="387.9" r="4.2"/><circle cx="1966.1" cy="378.0" r="4.2"/><circle cx="1967.5" cy="379.6" r="4.2"/><circle cx="1970.3" cy="386.1" r="4.2"/><circle cx="1972.1" cy="398.9" r="4.2"/><circle cx="1973.6" cy="375.5" r="4.2"/><circle cx="1975.3" cy="307.6" r="4.2"/><circle cx="1977.8" cy="260.4" r="4.2"/><circle cx="1981.2" cy="247.8" r="4.2"/><circle cx="1983.7" cy="241.9" r="4.2"/><circle cx="1986.2" cy="225.2" r="4.2"/><circle cx="1989.5" cy="290.0" r="4.2"/><circle cx="1991.2" cy="228.5" r="4.2"/><circle cx="1992.9" cy="272.9" r="4.2"/><circle cx="1994.6" cy="316.0" r="4.2"/><circle cx="1997.9" cy="306.0" r="4.2"/><circle cx="1998.8" cy="282.1" r="4.2"/><circle cx="2001.3" cy="296.7" r="4.2"/><circle cx="2002.9" cy="262.9" r="4.2"/><circle cx="2004.6" cy="353.7" r="4.2"/><circle cx="2006.2" cy="403.6" r="4.2"/><circle cx="2008.0" cy="419.2" r="4.2"/><circle cx="2009.9" cy="410.0" r="4.2"/><circle cx="2012.6" cy="387.9" r="4.2"/><circle cx="2014.7" cy="357.0" r="4.2"/><circle cx="2016.3" cy="393.4" r="4.2"/><circle cx="2018.2" cy="401.7" r="4.2"/><circle cx="2020.5" cy="287.0" r="4.2"/></g></g>
<rect x="126.5" y="18.5" width="565.2" height="480.4" fill="none" stroke="#161616" stroke-width="2.6"/>
<text x="152.5" y="62.5" font-size="28" font-weight="bold">(a)</text>
<rect x="804.3" y="18.5" width="565.2" height="480.4" fill="none" stroke="#161616" stroke-width="2.6"/>
<text x="830.3" y="62.5" font-size="28" font-weight="bold">(b)</text>
<rect x="1482.4" y="18.5" width="565.2" height="480.4" fill="none" stroke="#161616" stroke-width="2.6"/>
<text x="1508.4" y="62.5" font-size="28" font-weight="bold">(c)</text>
<text transform="translate(31.3,259.5) rotate(-90)" font-size="27" text-anchor="middle" style="font-family:'DejaVu Sans',sans-serif;font-style:italic">μ<tspan font-size="19" dy="6">y</tspan></text>
<rect x="418.9" y="31.4" width="259.6" height="81.5" rx="4" ry="4" fill="#fff" fill-opacity="0.8" stroke="#cccccc" stroke-width="1.3"/>
<line x1="426.8" y1="52.5" x2="480.9" y2="52.5" stroke="#3d67af" stroke-width="3.3"/>
<line x1="426.8" y1="89.4" x2="480.9" y2="89.4" stroke="#c44e52" stroke-opacity="0.6" stroke-width="3.3"/>
<circle cx="453.9" cy="89.4" r="4.2" fill="#c44e52" fill-opacity="0.6" stroke="#c44e52" stroke-opacity="0.6" stroke-width="1.1"/>
<text x="500.5" y="59.8" font-size="26" textLength="72.6" lengthAdjust="spacingAndGlyphs">DWM</text>
<text x="573.0" y="50.6" font-size="16.8" textLength="30" lengthAdjust="spacing" style="font-family:'DejaVu Sans',sans-serif;font-style:italic">filt.</text>
<text x="500.5" y="98.7" font-size="26" textLength="169.9" lengthAdjust="spacing">SpinnerLidar</text>
</svg></body></html>
